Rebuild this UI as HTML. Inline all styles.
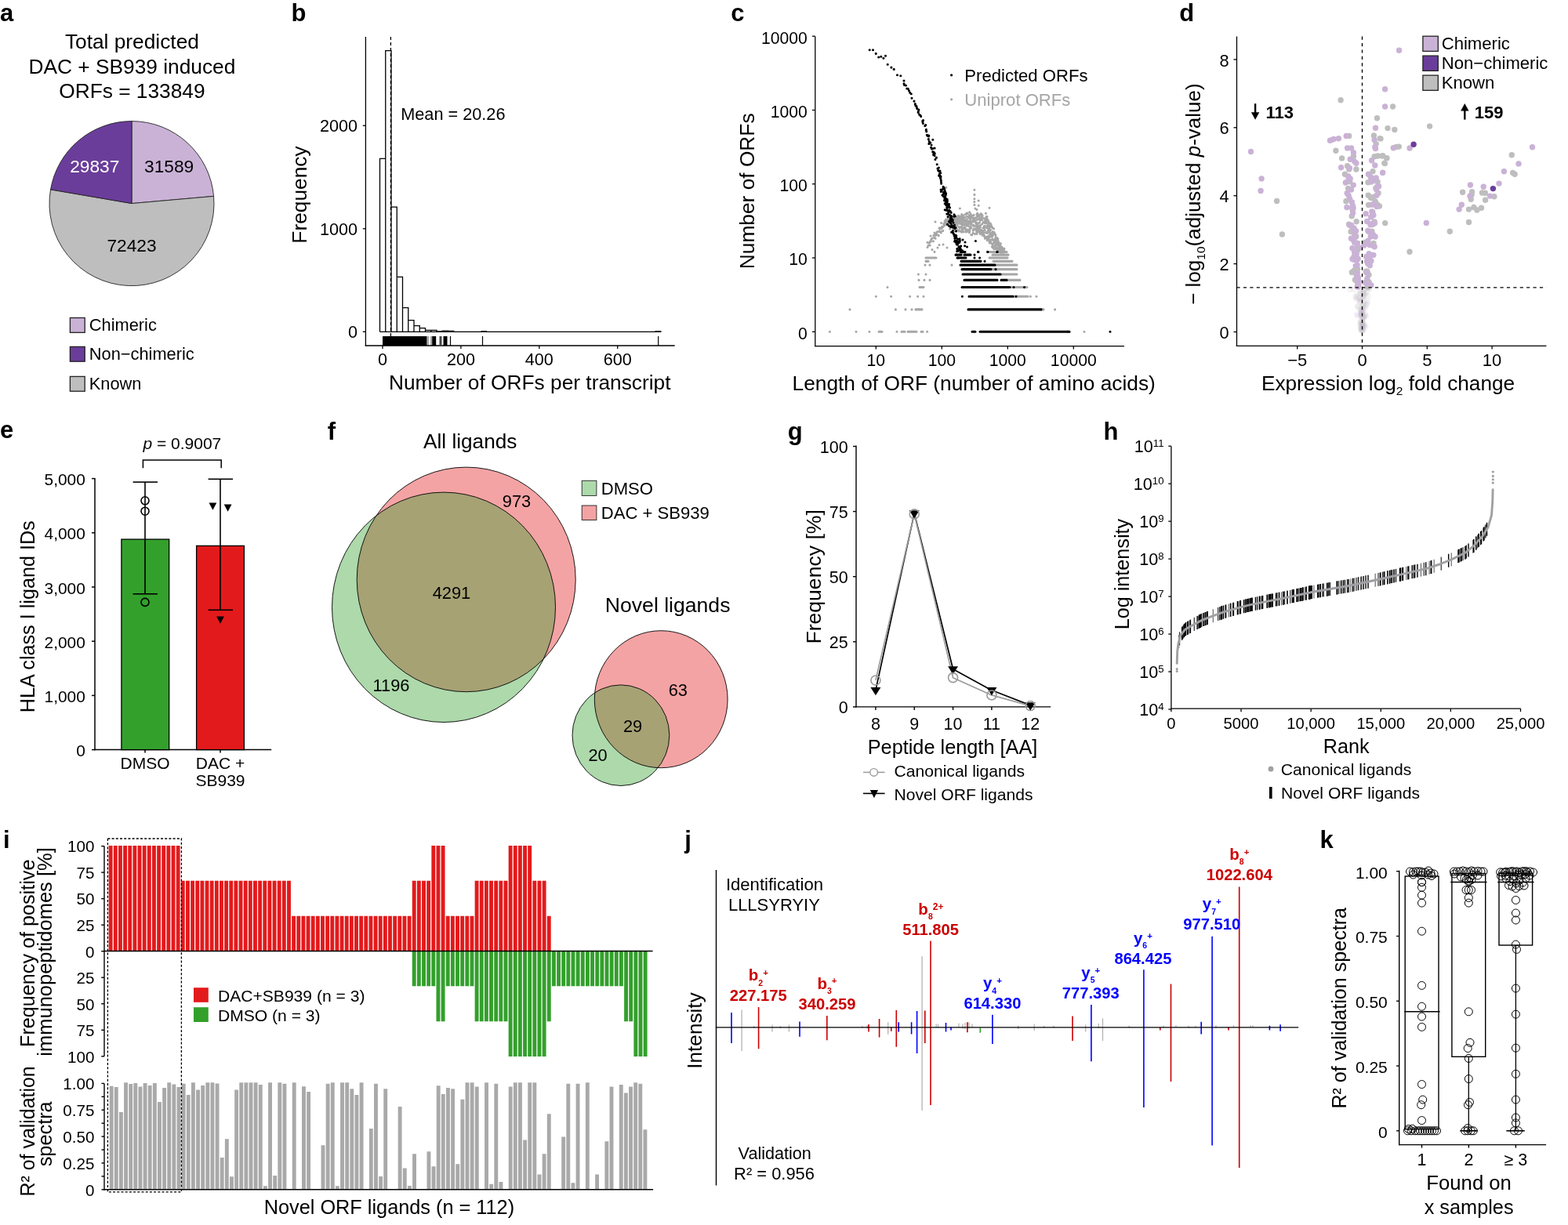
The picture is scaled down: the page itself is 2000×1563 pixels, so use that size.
<!DOCTYPE html>
<html><head><meta charset="utf-8"><title>Figure</title>
<style>html,body{margin:0;padding:0;background:#fff;}svg{display:block;}
text{font-family:'Liberation Sans', Arial, Helvetica, sans-serif;}</style></head>
<body><svg width="2000" height="1563" viewBox="0 0 2000 1563">
<rect width="2000" height="1563" fill="#fff"/>
<text transform="translate(0 26.6)" font-weight="bold" font-size="31">a</text>
<text transform="translate(168.4 61.7)" text-anchor="middle" font-size="26.3">Total predicted</text>
<text transform="translate(168.4 93.6)" text-anchor="middle" font-size="26.3">DAC + SB939 induced</text>
<text transform="translate(168.4 125)" text-anchor="middle" font-size="26.3">ORFs = 133849</text>
<path d="M168 259.6L168 154.6A105 105 0 0 1 272.59 250.38Z" fill="#cab2d6" stroke="#222" stroke-width="0.9" stroke-linejoin="round"/>
<path d="M168 259.6L272.59 250.38A105 105 0 1 1 64.52 241.82Z" fill="#bebebe" stroke="#222" stroke-width="0.9" stroke-linejoin="round"/>
<path d="M168 259.6L64.52 241.82A105 105 0 0 1 168 154.6Z" fill="#6a3d9a" stroke="#222" stroke-width="0.9" stroke-linejoin="round"/>
<text transform="translate(120.8 219.6)" text-anchor="middle" fill="#fff" font-size="22.7">29837</text>
<text transform="translate(215.6 219.6)" text-anchor="middle" font-size="22.7">31589</text>
<text transform="translate(168 320.5)" text-anchor="middle" font-size="22.7">72423</text>
<rect x="89.4" y="405.5" width="18.8" height="18.8" fill="#cab2d6" stroke="#222" stroke-width="1.3"/>
<text transform="translate(113.8 422.1)" font-size="21.8">Chimeric</text>
<rect x="89.4" y="442.4" width="18.8" height="18.8" fill="#6a3d9a" stroke="#222" stroke-width="1.3"/>
<text transform="translate(113.8 459)" font-size="21.8">Non−chimeric</text>
<rect x="89.4" y="480.4" width="18.8" height="18.8" fill="#bebebe" stroke="#222" stroke-width="1.3"/>
<text transform="translate(113.8 497)" font-size="21.8">Known</text>
<text transform="translate(371.4 26.6)" font-weight="bold" font-size="31">b</text>
<line x1="466.4" y1="47" x2="466.4" y2="441.6" stroke="#000" stroke-width="1.3"/>
<line x1="465.75" y1="441" x2="860.7" y2="441" stroke="#000" stroke-width="1.3"/>
<line x1="462.8" y1="423.3" x2="466.4" y2="423.3" stroke="#000" stroke-width="1.3"/>
<text transform="translate(456 431.1)" text-anchor="end" font-size="21.6">0</text>
<line x1="462.8" y1="291.8" x2="466.4" y2="291.8" stroke="#000" stroke-width="1.3"/>
<text transform="translate(456 299.6)" text-anchor="end" font-size="21.6">1000</text>
<line x1="462.8" y1="160.3" x2="466.4" y2="160.3" stroke="#000" stroke-width="1.3"/>
<text transform="translate(456 168.1)" text-anchor="end" font-size="21.6">2000</text>
<line x1="488" y1="441" x2="488" y2="445" stroke="#000" stroke-width="1.3"/>
<text transform="translate(488 465.6)" text-anchor="middle" font-size="21.6">0</text>
<line x1="587.9" y1="441" x2="587.9" y2="445" stroke="#000" stroke-width="1.3"/>
<text transform="translate(587.9 465.6)" text-anchor="middle" font-size="21.6">200</text>
<line x1="687.8" y1="441" x2="687.8" y2="445" stroke="#000" stroke-width="1.3"/>
<text transform="translate(687.8 465.6)" text-anchor="middle" font-size="21.6">400</text>
<line x1="787.7" y1="441" x2="787.7" y2="445" stroke="#000" stroke-width="1.3"/>
<text transform="translate(787.7 465.6)" text-anchor="middle" font-size="21.6">600</text>
<text transform="translate(496 497.3)" font-size="26.3">Number of ORFs per transcript</text>
<text transform="translate(391 248.5) rotate(-90)" text-anchor="middle" font-size="26.3">Frequency</text>
<path d="M484.5 423.3V202.3H491.75V423.3M491.75 423.3V64.6H499V423.3M499 423.3V264.2H506.25V423.3M506.25 423.3V353.3H513.5V423.3M513.5 423.3V392.7H520.75V423.3M520.75 423.3V408.6H528V423.3M528 423.3V415.7H535.25V423.3M535.25 423.3V418.7H542.5V423.3M542.5 423.3V421.3H549.75V423.3M549.75 423.3V421.3H557V423.3M557 423.3V422.8H564.25V423.3M564.25 423.3V422.2H571.5V423.3M571.5 423.3V422.5H578.75V423.3" fill="none" stroke="#000" stroke-width="1.3"/>
<line x1="484.5" y1="423.3" x2="843.4" y2="423.3" stroke="#000" stroke-width="1.3"/>
<line x1="613.5" y1="422.6" x2="621" y2="422.6" stroke="#000" stroke-width="1"/>
<line x1="835.5" y1="422.6" x2="843.4" y2="422.6" stroke="#000" stroke-width="1"/>
<line x1="498.4" y1="47" x2="498.4" y2="429" stroke="#000" stroke-width="1.3" stroke-dasharray="4 3"/>
<rect x="488" y="429" width="56.5" height="12" fill="#000"/>
<line x1="546" y1="429" x2="546" y2="441" stroke="#000" stroke-width="0.7"/>
<line x1="550" y1="429" x2="550" y2="441" stroke="#000" stroke-width="0.7"/>
<rect x="551.2" y="429" width="5" height="12" fill="#000"/>
<rect x="560.5" y="429" width="3" height="12" fill="#444"/>
<rect x="565.5" y="429" width="5" height="12" fill="#000"/>
<line x1="574.5" y1="429" x2="574.5" y2="441" stroke="#000" stroke-width="1.2"/>
<line x1="615.5" y1="429" x2="615.5" y2="441" stroke="#000" stroke-width="1.2"/>
<line x1="839.7" y1="429" x2="839.7" y2="441" stroke="#000" stroke-width="1.2"/>
<text transform="translate(511.2 152.6)" font-size="21.7">Mean = 20.26</text>
<text transform="translate(932.2 26.6)" font-weight="bold" font-size="31">c</text>
<line x1="1039.8" y1="46.6" x2="1039.8" y2="442.25" stroke="#000" stroke-width="1.3"/>
<line x1="1039.15" y1="441.6" x2="1434.1" y2="441.6" stroke="#000" stroke-width="1.3"/>
<line x1="1036" y1="423.3" x2="1039.8" y2="423.3" stroke="#000" stroke-width="1.3"/>
<text transform="translate(1029.8 432.7)" text-anchor="end" font-size="21.2">0</text>
<line x1="1036" y1="329.03" x2="1039.8" y2="329.03" stroke="#000" stroke-width="1.3"/>
<text transform="translate(1029.8 338.43)" text-anchor="end" font-size="21.2">10</text>
<line x1="1036" y1="234.76" x2="1039.8" y2="234.76" stroke="#000" stroke-width="1.3"/>
<text transform="translate(1029.8 244.16)" text-anchor="end" font-size="21.2">100</text>
<line x1="1036" y1="140.49" x2="1039.8" y2="140.49" stroke="#000" stroke-width="1.3"/>
<text transform="translate(1029.8 149.89)" text-anchor="end" font-size="21.2">1000</text>
<line x1="1036" y1="46.22" x2="1039.8" y2="46.22" stroke="#000" stroke-width="1.3"/>
<text transform="translate(1029.8 55.62)" text-anchor="end" font-size="21.2">10000</text>
<line x1="1117.3" y1="441.6" x2="1117.3" y2="445.4" stroke="#000" stroke-width="1.3"/>
<text transform="translate(1117.3 466.5)" text-anchor="middle" font-size="21.2">10</text>
<line x1="1201.3" y1="441.6" x2="1201.3" y2="445.4" stroke="#000" stroke-width="1.3"/>
<text transform="translate(1201.3 466.5)" text-anchor="middle" font-size="21.2">100</text>
<line x1="1285.3" y1="441.6" x2="1285.3" y2="445.4" stroke="#000" stroke-width="1.3"/>
<text transform="translate(1285.3 466.5)" text-anchor="middle" font-size="21.2">1000</text>
<line x1="1369.3" y1="441.6" x2="1369.3" y2="445.4" stroke="#000" stroke-width="1.3"/>
<text transform="translate(1369.3 466.5)" text-anchor="middle" font-size="21.2">10000</text>
<text transform="translate(1010.5 497.5)" font-size="26.3">Length of ORF (number of amino acids)</text>
<text transform="translate(962 243.8) rotate(-90)" text-anchor="middle" font-size="26.3">Number of ORFs</text>
<path d="M1262 321.57H1284M1266 325.13H1286M1262 329.03H1285M1181 329.03H1194M1267 333.34H1291M1181 333.34H1184M1269 338.17H1297M1180 338.17H1180M1186 338.17H1186M1214 338.17H1214M1266 343.63H1297M1276 349.94H1297M1171.4 349.94H1171.4M1181 349.94H1181M1284 357.41H1301M1172 357.41H1172M1179 357.41H1179M1186 357.41H1186M1288 366.54H1310M1132 366.54H1132M1173 366.54H1178M1292 378.32H1311M1314.4 378.32H1314.4M1322 378.32H1322M1117.4 378.32H1117.4M1136.6 378.32H1136.6M1160.6 378.32H1160.6M1170.6 378.32H1170.6M1178 378.32H1178M1084 394.92H1084M1142.4 394.92H1142.4M1155 394.92H1155M1163 394.92H1163M1168 394.92H1176M1328 394.92H1331M1345.6 394.92H1345.6M1058.4 423.3H1058.4M1092 423.3H1092M1109 423.3H1109M1121 423.3H1125M1144 423.3H1144M1150 423.3H1154M1158 423.3H1169M1175 423.3H1177M1182.6 423.3H1182.6M1362 423.3H1364M1383 423.3H1383" stroke="#a6a6a6" stroke-width="3.1" stroke-linecap="round" fill="none"/>
<path d="M1223.09 284.21h0M1252.55 276.45h0M1206 285.97h0M1280.67 321.53h0M1268.57 305.64h0M1253.25 297.13h0M1244.76 292.74h0M1262.63 298.57h0M1227.9 274.99h0M1259.63 301.84h0M1259.27 302.01h0M1238.79 299.6h0M1271.79 303.51h0M1278.38 319.26h0M1252.63 280.61h0M1231.67 286.96h0M1249.4 296.51h0M1270.09 317.21h0M1256.02 281.88h0M1273.76 312.38h0M1259.25 284.82h0M1226.66 273.61h0M1269.9 321.38h0M1236.2 277.18h0M1227.34 290.78h0M1251.7 274.22h0M1259.6 290.25h0M1243.41 298.52h0M1228.53 274.79h0M1220 282.69h0M1251.4 279.81h0M1228.85 295.85h0M1273.15 309.41h0M1253.94 290.81h0M1247.5 290.65h0M1237.77 291.28h0M1223.06 282.01h0M1246.68 272.05h0M1236.56 289.27h0M1253.05 275.44h0M1252.68 285.9h0M1258.73 297.13h0M1206.69 279.91h0M1224.09 280.82h0M1250.04 280.99h0M1233.06 288.24h0M1227.83 281.89h0M1248.26 292.41h0M1228.56 278.65h0M1219.24 282.54h0M1258.05 279.1h0M1268.35 305.81h0M1270.02 300.34h0M1272.25 312.27h0M1222.1 276.52h0M1266.32 312.52h0M1218.95 281.36h0M1266.28 297.68h0M1214.86 281.82h0M1231.32 281.99h0M1236.9 283.66h0M1205.35 286.33h0M1271.88 318.35h0M1275.48 314.11h0M1261.66 303.1h0M1226.97 279.8h0M1222.29 275.4h0M1266.57 291.23h0M1273.67 318.89h0M1273.38 313.28h0M1206 285.95h0M1255.38 290.45h0M1236.45 296.45h0M1224.19 291.1h0M1241.27 294.3h0M1245.63 295.66h0M1218.02 291.15h0M1267.59 291.74h0M1252.77 298.29h0M1225.41 285.32h0M1237.15 284.82h0M1209.17 280.9h0M1214.47 280.96h0M1211.55 283.9h0M1229.01 279.42h0M1249.58 284.08h0M1219.52 282.62h0M1259.42 290h0M1211.07 279.8h0M1264.48 297.98h0M1265.89 305.25h0M1242.71 292.52h0M1236.96 289.96h0M1245.72 291.75h0M1210.44 281.26h0M1276.17 316.83h0M1273.24 317.79h0M1214.36 289.87h0M1255.33 300.1h0M1260.76 293.66h0M1212.84 286.02h0M1263.85 286.33h0M1211.98 280.39h0M1206.79 285.64h0M1214.22 287.83h0M1277.38 316.61h0M1265.7 289.96h0M1259.35 279.87h0M1261.92 307.97h0M1247.86 295.55h0M1223.4 278.13h0M1262.27 294.64h0M1232.93 281.74h0M1211.33 285.25h0M1278.95 319.06h0M1257.5 296.91h0M1256.21 288.23h0M1273.2 307.24h0M1212.29 288.35h0M1238.67 291.32h0M1219.14 281.03h0M1228.93 280.07h0M1257.53 302.67h0M1236.4 296.77h0M1249.43 280.11h0M1241.44 282.87h0M1218.09 281.31h0M1215.91 293.53h0M1241.45 286.95h0M1267.44 307h0M1241.58 293.6h0M1260.75 305.05h0M1240.52 278.2h0M1256.33 304.3h0M1269.89 303h0M1219.23 288.84h0M1270.25 317.76h0M1228.82 285.34h0M1260.4 283.99h0M1227.17 282.64h0M1249.1 292.34h0M1238.15 285.36h0M1220.97 287.17h0M1246.37 274.87h0M1225.88 289.9h0M1274.07 309.85h0M1276.54 316.6h0M1227.46 286.49h0M1254.71 296.68h0M1278.06 321.62h0M1245.75 273.75h0M1259.58 297.34h0M1248.05 276.33h0M1218.61 289.64h0M1254.81 278.55h0M1230.2 289.74h0M1250.4 287.46h0M1228.75 276.23h0M1210.21 286.26h0M1261.21 288.9h0M1225.2 282.25h0M1243.36 278.02h0M1263.44 293.4h0M1246.15 294.73h0M1231.82 294.15h0M1212.57 280.42h0M1264.2 306.12h0M1236.67 292.79h0M1267 310.41h0M1235.28 276.88h0M1245.1 288.17h0M1264.41 287.91h0M1266.04 314.95h0M1247 287.93h0M1253.16 300.25h0M1270.36 307.85h0M1250.7 295.15h0M1255.31 288.61h0M1244.8 285.27h0M1207.82 285.45h0M1254.09 283.59h0M1272.8 304.69h0M1265.22 306.06h0M1222.74 276.65h0M1245.95 297.12h0M1257.79 282.49h0M1270.23 312.9h0M1261.22 289.15h0M1266.31 316h0M1262.52 294.89h0M1213.29 279.43h0M1217.22 284.83h0M1258.15 290.41h0M1228.15 284.65h0M1262.54 294.71h0M1259.7 291.21h0M1233.19 285.11h0M1205.21 281.77h0M1264.52 289.62h0M1220.91 278.7h0M1235.68 277.13h0M1217.79 284.44h0M1209.54 278.78h0M1258.46 278.98h0M1235.65 285.66h0M1221.64 277.43h0M1241.07 275.24h0M1214.42 277.66h0M1260.3 287.4h0M1275.9 313.25h0M1224 280.4h0M1231.2 273.56h0M1256.86 303.04h0M1207.3 281.22h0M1217.95 278.63h0M1273.42 308.97h0M1279.01 320.26h0M1276.45 310.79h0M1228.16 287.54h0M1227.3 292.14h0M1213.72 282.05h0M1275.57 314.16h0M1261.22 301.15h0M1275.19 312.66h0M1236.52 278.4h0M1225.48 276.12h0M1259.77 295.2h0M1242.02 274.39h0M1259.01 276.55h0M1256.48 278.78h0M1223.02 289.64h0M1271.29 307.45h0M1273.16 316.29h0M1210.48 284.22h0M1277.63 315.37h0M1211.15 285.52h0M1223.29 276.56h0M1249.5 274.43h0M1222.47 293.72h0M1236.89 294.7h0M1250.93 294.1h0M1218.5 277.34h0M1267.74 298.81h0M1220.14 291.9h0M1211.52 284.26h0M1251.77 293.23h0M1262.87 306.18h0M1238.87 276.01h0M1268.49 309.15h0M1245.98 284.18h0M1260.33 280.97h0M1210.44 285.84h0M1260.88 290.75h0M1221.28 280.41h0M1280.68 320.01h0M1221.56 278.46h0M1275.75 321.1h0M1251.52 296.46h0M1245.71 286.07h0M1277.17 317h0M1263.78 298.86h0M1227.2 294.1h0M1219.03 277.47h0M1244.48 289h0M1208.08 285.7h0M1231.2 292h0M1261.76 290.1h0M1236.24 274.69h0M1216.64 287.52h0M1279.45 317.88h0M1233.32 276.06h0M1244.97 288.38h0M1232.34 293.41h0M1272.4 319.05h0M1227.6 278.91h0M1214.99 284.68h0M1245.72 277.14h0M1263.52 297.5h0M1279.43 321.04h0M1219.06 276.19h0M1237.86 282.57h0M1212.13 282.65h0M1223.79 289.71h0M1208.34 284.01h0M1252.69 294.03h0M1223.8 276.01h0M1262.63 302.14h0M1246.94 279.7h0M1217.82 275.11h0M1273.87 311.35h0M1255.58 301.61h0M1236.5 284.45h0M1217.98 277.84h0M1246.58 279.97h0M1231.74 284.28h0M1277.9 315.34h0M1228.93 283.22h0M1267.9 317.75h0M1251.55 272.69h0M1242.06 278.67h0M1258.91 304.58h0M1233.22 286.52h0M1273.07 320.23h0M1274.97 310.78h0M1234.13 293.16h0M1277.19 321.89h0M1229.12 282.12h0M1224.02 294.78h0M1211.02 281.62h0M1244.99 293.44h0M1268.71 310.05h0M1226.45 294.39h0M1210.27 281.04h0M1246.51 273.31h0M1222.93 294.99h0M1218.52 294.72h0M1256.27 293.88h0M1262.72 288.04h0M1219.41 290.3h0M1278.02 318.57h0M1234.06 272.38h0M1226.34 278.76h0M1216.04 277.35h0M1210.85 283.26h0M1276.39 322.27h0M1231.93 295.88h0M1241.87 292.16h0M1231.25 291.12h0M1264.43 300.44h0M1238.61 287.1h0M1268.31 296.62h0M1269.47 298.94h0M1278.22 321.04h0M1220.38 277.34h0M1279.36 319.87h0M1206.06 285.79h0M1265.34 314.78h0M1263.22 285.04h0M1246.07 285.26h0M1229.56 286.2h0M1233.39 279.49h0M1279.52 322.47h0M1270.53 315.92h0M1225.5 279.68h0M1243.06 291.93h0M1226.46 296.09h0M1239.42 282.87h0M1279.98 319.85h0M1238.56 290.27h0M1269.41 314.77h0M1209.51 284.73h0M1232.86 280.19h0M1246.7 294.56h0M1259.06 289.01h0M1227.85 283.8h0M1254.53 299.35h0M1249.42 276.93h0M1251.72 278.23h0M1211.2 282.32h0M1245.95 298.24h0M1245.61 293.83h0M1274.39 311.71h0M1256.87 280.14h0M1241.13 297.19h0M1226.79 278.45h0M1211.45 277.81h0M1231.7 273.33h0M1225.84 281.41h0M1243.89 282.65h0M1238.15 273.08h0M1279.41 321.53h0M1262.27 309.87h0M1210.02 278.39h0M1272.98 318.53h0M1230.2 280.74h0M1220.35 281.32h0M1211.72 288.55h0M1244.8 288.53h0M1211.48 279.09h0M1245.97 280.27h0M1279.64 319.65h0M1227.69 293.39h0M1215.1 284.04h0M1263.42 308.5h0M1270.17 314.29h0M1237.89 280.82h0M1219.74 291.41h0M1276.26 315.79h0M1274.43 313.36h0M1207.87 284.81h0M1234.21 294.37h0M1235.5 282.03h0M1218.5 280.2h0M1230.86 277.41h0M1221.75 282.56h0M1258.17 282.51h0M1255.98 293.26h0M1234.96 288.04h0M1250.43 289.91h0M1264.79 310.76h0M1242.25 288.09h0M1257.11 284.85h0M1267.13 315.05h0M1241.72 279.61h0M1259.48 287.68h0M1213.18 283.09h0M1269.66 305.34h0M1238.95 285.04h0M1249.29 295.56h0M1262.85 298.81h0M1228.01 294.57h0M1280.12 320.07h0M1261.85 291.36h0M1260.87 289.9h0M1241.39 288.23h0M1247.75 284.76h0M1213.33 284.18h0M1218.11 284.51h0M1219.91 282.37h0M1209.16 283.72h0M1220.32 284.85h0M1245.85 298.51h0M1271.01 310h0M1226 280.72h0M1276.56 315.57h0M1237.99 278.58h0M1278.15 315.8h0M1220.16 278.96h0M1279.89 320.63h0M1212.49 284.06h0M1262.04 284.93h0M1229.83 291.79h0M1217.56 286.99h0M1233.3 295.82h0M1261.61 294.38h0M1266.13 295.49h0M1246.36 288.1h0M1217.92 287.01h0M1221.06 286.22h0M1269.44 313.02h0M1233.31 271.74h0M1275 311.02h0M1217.04 291.91h0M1261.12 283.34h0M1246.35 290.16h0M1215.4 285.78h0M1272.21 305.14h0M1264.68 297.52h0M1239.64 299.66h0M1258.27 276.35h0M1226.4 288.94h0M1244.39 281.1h0M1278.81 318.01h0M1266.21 300.77h0M1255.72 284.47h0M1265.82 299.83h0M1222.47 283.72h0M1248.54 288.11h0M1250.41 281.21h0M1230.76 277.66h0M1248.24 279.83h0M1255.34 293.77h0M1244.64 283.6h0M1265.38 302.31h0M1212.58 287.79h0M1238.34 274.33h0M1280.96 317.17h0M1214.28 287.79h0M1241.45 279.61h0M1205.88 283.28h0M1205.36 287.02h0M1208.64 283.59h0M1228.16 283.7h0M1215.09 287.14h0M1211.73 292.26h0M1219.56 278.13h0M1261.61 295.75h0M1252.92 274.4h0M1256.21 289.94h0M1210.19 285.81h0M1275.39 314.59h0M1234.71 282.82h0M1250.72 273.12h0M1224.62 285.75h0M1224.51 280.38h0M1277.72 316.65h0M1220.41 282.4h0M1249.43 289.88h0M1223.35 278.79h0M1243.11 278.9h0M1272.16 312.2h0M1208.04 286.88h0M1262.08 291.72h0M1221.68 278.45h0M1219.95 285.12h0M1212.89 285.97h0M1241.35 281.22h0M1220.21 282.6h0M1254.1 294.57h0M1272.72 317.38h0M1259.19 306.6h0M1273.35 308.54h0M1250.19 298.41h0M1273.88 315.16h0M1216.03 280.87h0M1228.99 282.3h0M1275.54 316.31h0M1229.09 282.42h0M1279.17 320.96h0M1223.53 280.22h0M1276.26 315.46h0M1228.05 277.6h0M1246.22 286.51h0M1227.66 292.98h0M1275.97 319.22h0M1224.03 278.06h0M1216.77 293.94h0M1247.4 273.9h0M1237.45 274.1h0M1226.9 293.78h0M1187.41 308.07h0M1200.28 297.07h0M1193.77 299.04h0M1197.76 295.38h0M1197.12 300.29h0M1192.03 303.32h0M1186.88 307.69h0M1193.48 299.69h0M1193.62 298.8h0M1201.48 289.39h0M1186.15 308.68h0M1191.99 297.06h0M1192.74 300.14h0M1182.94 309.28h0M1195.24 295.74h0M1202.77 294.39h0M1185.29 309.7h0M1202.49 289.68h0M1194.34 299.12h0M1204.01 288.17h0M1193.14 304.28h0M1192.05 299.21h0M1205.15 282.04h0M1197.19 300.69h0M1186.15 313.01h0M1189.53 303.87h0M1187.79 305.97h0M1194.99 299.11h0M1198.52 292.15h0M1201.23 290.42h0M1187 300.96h0M1187.93 304.94h0M1203.73 285.77h0M1200.29 295.58h0M1201.57 290.74h0M1190.47 307.84h0M1194.29 297.68h0M1200.59 291.61h0M1200.56 290.85h0M1184.06 313.14h0M1198.69 290.77h0M1193.78 300.15h0M1190.86 300.48h0M1204.84 284.05h0M1198.02 291.06h0M1242.9 242.2h0M1242.9 248.4h0M1242.9 253.8h0M1242.9 257.5h0M1242.9 261.4h0M1248.2 256h0M1248.2 262.2h0M1262 265.3h0M1224.4 266h0M1236.7 270.7h0M1257.4 272.2h0M1206.8 239.2h0M1193 283h0M1200.6 284.5h0M1244 266h0M1246 267.5h0M1183 315.5h0M1189 318.6h0M1192 321.4h0M1196 316h0M1198 312.5h0M1185.5 310h0M1203 312h0M1208 316h0" stroke="#a6a6a6" stroke-width="3.1" stroke-linecap="round" fill="none"/>
<path d="M1225 321.57H1231M1248 321.57H1248M1260 321.57H1260M1272 321.57H1272M1219 325.13H1226M1230 325.13H1238M1243 325.13H1243M1221 329.03H1232M1243 329.03H1243M1249.6 329.03H1249.6M1226 333.34H1251M1256 333.34H1256M1225 338.17H1269M1227 343.63H1264M1270 343.63H1270M1228 349.94H1276M1230 357.41H1272M1277 357.41H1284M1227 366.54H1288M1293 366.54H1293M1306.6 366.54H1306.6M1227.4 378.32H1227.4M1236 378.32H1292M1296 378.32H1296M1235 394.92H1328M1240 423.3H1244M1250 423.3H1364M1416 423.3H1416" stroke="#000" stroke-width="3.1" stroke-linecap="round" fill="none"/>
<path d="M1109.2 63.8h0M1113.5 63.8h0M1117.2 68.4h0M1120.7 73h0M1123.8 72.3h0M1126.9 74.3h0M1129.5 71.2h0M1132.2 82.2h0M1136.9 86.1h0M1140.2 88.4h0M1144.5 95.8h0M1148.8 96.8h0M1153 103h0M1153 106.8h0M1156.8 113h0M1160.7 118.3h0M1163 125.2h0M1166 129.1h0M1169.1 136h0M1171.4 142.1h0M1174.5 148.3h0M1176.8 154.4h0M1179.8 160.6h0M1181.4 165.2h0M1183.7 172.8h0M1185.2 180.5h0M1189.8 178.2h0M1187.5 188.2h0M1192.1 189h0M1190.6 197.4h0M1192.9 203.5h0M1195.2 209.7h0M1196 215h0M1198.3 222h0M1199.8 228.1h0M1200.6 234.3h0M1202.9 240.4h0M1205.2 245h0M1206 252.7h0M1208.3 260.4h0M1210.6 263.4h0M1212.1 269.6h0M1213.6 275.7h0M1215.2 281.9h0M1217.5 287.2h0M1219 300h0M1221 308h0M1223 316h0M1226 320h0M1183.01 173.27h0M1197.91 218.72h0M1174 147.19h0M1182.3 172.35h0M1167.97 135.04h0M1186.7 182.1h0M1167.25 132.91h0M1181.73 167.86h0M1191.29 194.25h0M1153.53 108.45h0M1158.25 113.37h0M1172.66 146.16h0M1184.78 172.97h0M1177.54 153.6h0M1176.9 155.85h0M1155.46 108.99h0M1162.24 119.76h0M1169.88 138.66h0M1159.5 115.75h0M1203.1 240.03h0M1171.91 140.04h0M1188.03 184.99h0M1194.41 201.14h0M1198.98 218.67h0M1189.74 189.45h0M1174.64 148.6h0M1197.38 213.96h0M1180.76 159.6h0M1192.04 198.52h0M1171.17 143.5h0M1192.29 195.81h0M1200.27 230.06h0M1184.54 173.93h0M1177.33 157.48h0M1169.58 138.14h0M1189.73 193.66h0M1184.81 183.51h0M1197.65 224.14h0M1200.04 225.61h0M1198.94 217.94h0M1179.77 160.59h0M1168.56 135.03h0M1196.67 217.4h0M1199.35 226.89h0M1185.51 182.35h0M1184.36 177.85h0M1199.27 224.37h0M1167.32 132.53h0M1190.81 195.09h0M1184.34 177.64h0M1181.27 166.43h0M1203.09 238.22h0M1200.4 232.13h0M1199.7 220.8h0M1188.6 190h0M1217.9 291.47h0M1210.64 260.53h0M1212.41 277.98h0M1216.04 284.28h0M1219.64 302.32h0M1224.48 307.27h0M1215.16 280.3h0M1221.44 312.25h0M1217.58 308.12h0M1217.04 273.87h0M1204.04 247.2h0M1201.97 249.01h0M1212.34 289.48h0M1218.1 307.16h0M1205.2 267.8h0M1227.57 319.7h0M1207.61 257.96h0M1206.25 253.4h0M1220.65 320.62h0M1222.35 308.57h0M1211.32 274.27h0M1215.86 297.41h0M1222.43 309.11h0M1202.47 248.5h0M1213.95 281.49h0M1215.39 294.48h0M1205.38 244.15h0M1220.61 307.66h0M1205.96 253.99h0M1205.57 247.43h0M1223.89 309.33h0M1221.63 310.81h0M1212.51 274.96h0M1207.05 260.57h0M1222.01 318.97h0M1224.01 314.85h0M1225.17 318.97h0M1224.17 304.69h0M1210.02 273.25h0M1205.21 259.87h0M1204.82 247.19h0M1226.16 320.99h0M1223.9 306.83h0M1216.51 298.76h0M1206.48 248.21h0M1205.2 244.83h0M1204.01 245.78h0M1207.31 260.75h0M1218.92 290.59h0M1216.74 299.01h0M1204.84 252.64h0M1217.43 301.62h0M1212.74 284.47h0M1207.56 260.5h0M1219.58 294.89h0M1220.75 317.59h0M1213.45 281.94h0M1204.6 255.89h0M1209.09 276.54h0M1220.99 304.78h0M1213.63 296.3h0M1204.81 242.14h0M1209.38 269.51h0M1207.75 273.02h0M1221.51 320.49h0M1208.45 263.83h0M1219.76 300.74h0M1224.12 318.9h0M1213.71 278.41h0M1220.39 307.14h0M1207.22 253.81h0M1212.25 280h0M1216.97 300.12h0M1223.35 305.07h0M1208.3 255.64h0M1211.34 282.12h0M1224.56 315.77h0M1204.4 240.19h0M1205.89 249.72h0M1204.63 255.34h0M1207.72 267.29h0M1217.86 304.21h0M1207.62 264.49h0M1210.46 288.21h0M1205.88 254.61h0M1203.33 245.28h0M1205.2 245.8h0M1203.92 245.63h0M1220.07 311.36h0M1225.07 314.22h0M1205.83 252.15h0M1206.5 247.1h0M1207.02 261.04h0M1208.5 286.26h0M1206.56 268.17h0M1209.11 261.33h0M1211.53 264.97h0M1209.75 270.9h0M1220.43 311.88h0M1206.8 256.09h0M1203.23 250.34h0M1210.65 282.66h0M1208.09 254.18h0M1214.12 288.01h0M1207.9 257.53h0M1220.34 308.01h0M1227.33 320.88h0M1227.14 319.74h0M1205.15 245.56h0M1203.82 239.09h0M1200.31 244.39h0M1208.64 268.58h0M1216.82 276.16h0M1221.78 309.89h0M1214.85 295.9h0M1213.66 286.95h0M1222.93 315.08h0M1222.11 319.99h0M1210.53 268.39h0M1220.67 310.09h0M1209.79 264.66h0M1212.77 276.71h0M1211.18 283.59h0M1206.62 258.4h0M1225.71 314.06h0M1220.32 309.79h0M1227.1 322.05h0M1200.1 241.98h0M1207.89 264.55h0M1206.57 246.49h0M1203.57 247.15h0M1216.89 288.63h0M1206.56 261.54h0M1203.89 245.44h0M1212.42 282.64h0M1209.19 260.53h0M1207.98 258.37h0M1208.35 257.12h0M1218.3 275.81h0M1219.76 303.5h0M1212.84 282.16h0M1207.21 258.76h0M1212.47 289.78h0M1215.28 290.14h0M1219.49 309.33h0M1225.44 317.86h0M1201.59 242.34h0M1213.17 271.34h0M1208.09 259.91h0M1209.55 263.23h0M1230.6 313.7h0M1233.5 315h0M1244.4 307.5h0M1247.5 321.4h0M1259.7 321.4h0M1272 321.4h0M1219.8 325h0M1222 329h0M1231 309h0M1228 306h0" stroke="#000" stroke-width="3.1" stroke-linecap="round" fill="none"/>
<circle cx="1213.6" cy="95.8" r="1.6" fill="#000"/>
<text transform="translate(1230.3 103.8)" font-size="22.1">Predicted ORFs</text>
<circle cx="1213.6" cy="126.8" r="1.6" fill="#a6a6a6"/>
<text transform="translate(1230.3 134.8)" fill="#a6a6a6" font-size="22.1">Uniprot ORFs</text>
<text transform="translate(1504.2 26.5)" font-weight="bold" font-size="31">d</text>
<line x1="1577.5" y1="46.6" x2="1577.5" y2="442.05" stroke="#000" stroke-width="1.3"/>
<line x1="1576.85" y1="441.4" x2="1972.4" y2="441.4" stroke="#000" stroke-width="1.3"/>
<line x1="1573.5" y1="423.5" x2="1577.5" y2="423.5" stroke="#000" stroke-width="1.3"/>
<text transform="translate(1567.7 432.1)" text-anchor="end" font-size="21.8">0</text>
<line x1="1573.5" y1="336.6" x2="1577.5" y2="336.6" stroke="#000" stroke-width="1.3"/>
<text transform="translate(1567.7 345.2)" text-anchor="end" font-size="21.8">2</text>
<line x1="1573.5" y1="249.7" x2="1577.5" y2="249.7" stroke="#000" stroke-width="1.3"/>
<text transform="translate(1567.7 258.3)" text-anchor="end" font-size="21.8">4</text>
<line x1="1573.5" y1="162.8" x2="1577.5" y2="162.8" stroke="#000" stroke-width="1.3"/>
<text transform="translate(1567.7 171.4)" text-anchor="end" font-size="21.8">6</text>
<line x1="1573.5" y1="75.9" x2="1577.5" y2="75.9" stroke="#000" stroke-width="1.3"/>
<text transform="translate(1567.7 84.5)" text-anchor="end" font-size="21.8">8</text>
<line x1="1654.7" y1="441.4" x2="1654.7" y2="445.4" stroke="#000" stroke-width="1.3"/>
<text transform="translate(1654.7 466.5)" text-anchor="middle" font-size="22">−5</text>
<line x1="1737.5" y1="441.4" x2="1737.5" y2="445.4" stroke="#000" stroke-width="1.3"/>
<text transform="translate(1737.5 466.5)" text-anchor="middle" font-size="22">0</text>
<line x1="1820.3" y1="441.4" x2="1820.3" y2="445.4" stroke="#000" stroke-width="1.3"/>
<text transform="translate(1820.3 466.5)" text-anchor="middle" font-size="22">5</text>
<line x1="1903.1" y1="441.4" x2="1903.1" y2="445.4" stroke="#000" stroke-width="1.3"/>
<text transform="translate(1903.1 466.5)" text-anchor="middle" font-size="22">10</text>
<text transform="translate(1609 497.6)" font-size="26.2">Expression log<tspan font-size="15.5" dy="6">2</tspan><tspan dy="-6"> fold change</tspan></text>
<text transform="translate(1530.8 388.8) rotate(-90)" font-size="26">− log<tspan font-size="15.5" dy="6">10</tspan><tspan dy="-6">(adjusted </tspan><tspan font-style="italic">p</tspan>-value)</text>
<circle cx="1739.57" cy="405.21" r="3.7" fill="#cab2d6" fill-opacity="0.16"/>
<circle cx="1739.24" cy="419.41" r="3.7" fill="#bebebe" fill-opacity="0.16"/>
<circle cx="1736.75" cy="393.23" r="3.7" fill="#bebebe" fill-opacity="0.16"/>
<circle cx="1738.32" cy="394.84" r="3.7" fill="#cab2d6" fill-opacity="0.16"/>
<circle cx="1737.03" cy="421.38" r="3.7" fill="#bebebe" fill-opacity="0.16"/>
<circle cx="1737.74" cy="418.38" r="3.7" fill="#bebebe" fill-opacity="0.16"/>
<circle cx="1738.18" cy="399.52" r="3.7" fill="#cab2d6" fill-opacity="0.16"/>
<circle cx="1736.56" cy="410.89" r="3.7" fill="#bebebe" fill-opacity="0.16"/>
<circle cx="1742" cy="388.06" r="3.7" fill="#bebebe" fill-opacity="0.16"/>
<circle cx="1736.34" cy="401.09" r="3.7" fill="#cab2d6" fill-opacity="0.16"/>
<circle cx="1746.92" cy="368.36" r="3.7" fill="#bebebe" fill-opacity="0.16"/>
<circle cx="1738.82" cy="407.14" r="3.7" fill="#bebebe" fill-opacity="0.16"/>
<circle cx="1738.61" cy="415.35" r="3.7" fill="#cab2d6" fill-opacity="0.16"/>
<circle cx="1740.02" cy="377.4" r="3.7" fill="#bebebe" fill-opacity="0.16"/>
<circle cx="1735.15" cy="413.29" r="3.7" fill="#bebebe" fill-opacity="0.16"/>
<circle cx="1735.65" cy="402.47" r="3.7" fill="#cab2d6" fill-opacity="0.16"/>
<circle cx="1738.57" cy="392.56" r="3.7" fill="#bebebe" fill-opacity="0.16"/>
<circle cx="1737.77" cy="411.87" r="3.7" fill="#bebebe" fill-opacity="0.16"/>
<circle cx="1734.51" cy="385.07" r="3.7" fill="#cab2d6" fill-opacity="0.16"/>
<circle cx="1738.82" cy="390.42" r="3.7" fill="#bebebe" fill-opacity="0.16"/>
<circle cx="1735.89" cy="397.9" r="3.7" fill="#bebebe" fill-opacity="0.16"/>
<circle cx="1744.1" cy="384.02" r="3.7" fill="#cab2d6" fill-opacity="0.16"/>
<circle cx="1735.17" cy="409.71" r="3.7" fill="#bebebe" fill-opacity="0.16"/>
<circle cx="1734.98" cy="374.07" r="3.7" fill="#bebebe" fill-opacity="0.16"/>
<circle cx="1734.84" cy="382.3" r="3.7" fill="#cab2d6" fill-opacity="0.16"/>
<circle cx="1741.99" cy="416.83" r="3.7" fill="#bebebe" fill-opacity="0.16"/>
<circle cx="1737.57" cy="399.88" r="3.7" fill="#bebebe" fill-opacity="0.16"/>
<circle cx="1735.73" cy="395.88" r="3.7" fill="#cab2d6" fill-opacity="0.16"/>
<circle cx="1736.38" cy="421.29" r="3.7" fill="#bebebe" fill-opacity="0.16"/>
<circle cx="1732.45" cy="391.13" r="3.7" fill="#bebebe" fill-opacity="0.16"/>
<circle cx="1734.74" cy="374.05" r="3.7" fill="#cab2d6" fill-opacity="0.16"/>
<circle cx="1742.46" cy="389.93" r="3.7" fill="#bebebe" fill-opacity="0.16"/>
<circle cx="1731.16" cy="390.74" r="3.7" fill="#bebebe" fill-opacity="0.16"/>
<circle cx="1740.02" cy="370.14" r="3.7" fill="#cab2d6" fill-opacity="0.16"/>
<circle cx="1736.95" cy="396.72" r="3.7" fill="#bebebe" fill-opacity="0.16"/>
<circle cx="1736.31" cy="383.88" r="3.7" fill="#bebebe" fill-opacity="0.16"/>
<circle cx="1744.37" cy="386.95" r="3.7" fill="#cab2d6" fill-opacity="0.16"/>
<circle cx="1737.32" cy="407.42" r="3.7" fill="#bebebe" fill-opacity="0.16"/>
<circle cx="1737.22" cy="401.71" r="3.7" fill="#bebebe" fill-opacity="0.16"/>
<circle cx="1736.94" cy="397.42" r="3.7" fill="#cab2d6" fill-opacity="0.16"/>
<circle cx="1737.98" cy="414.01" r="3.7" fill="#bebebe" fill-opacity="0.16"/>
<circle cx="1738.48" cy="380.11" r="3.7" fill="#bebebe" fill-opacity="0.16"/>
<circle cx="1737.53" cy="416.19" r="3.7" fill="#cab2d6" fill-opacity="0.16"/>
<circle cx="1742.05" cy="374.28" r="3.7" fill="#bebebe" fill-opacity="0.16"/>
<circle cx="1735.7" cy="418.95" r="3.7" fill="#bebebe" fill-opacity="0.16"/>
<circle cx="1739.33" cy="373.6" r="3.7" fill="#cab2d6" fill-opacity="0.16"/>
<circle cx="1739.82" cy="377.22" r="3.7" fill="#bebebe" fill-opacity="0.16"/>
<circle cx="1735.79" cy="400.04" r="3.7" fill="#bebebe" fill-opacity="0.16"/>
<circle cx="1742.35" cy="403.23" r="3.7" fill="#cab2d6" fill-opacity="0.16"/>
<circle cx="1734.53" cy="414.98" r="3.7" fill="#bebebe" fill-opacity="0.16"/>
<circle cx="1737.65" cy="413.55" r="3.7" fill="#bebebe" fill-opacity="0.16"/>
<circle cx="1739.72" cy="396.11" r="3.7" fill="#cab2d6" fill-opacity="0.16"/>
<circle cx="1737.47" cy="390.22" r="3.7" fill="#bebebe" fill-opacity="0.16"/>
<circle cx="1737.75" cy="399.84" r="3.7" fill="#bebebe" fill-opacity="0.16"/>
<circle cx="1731.57" cy="402.64" r="3.7" fill="#cab2d6" fill-opacity="0.16"/>
<circle cx="1733.63" cy="384.5" r="3.7" fill="#bebebe" fill-opacity="0.16"/>
<circle cx="1733.96" cy="394.38" r="3.7" fill="#bebebe" fill-opacity="0.16"/>
<circle cx="1736.08" cy="420.45" r="3.7" fill="#cab2d6" fill-opacity="0.16"/>
<circle cx="1739.28" cy="372.69" r="3.7" fill="#bebebe" fill-opacity="0.16"/>
<circle cx="1728.93" cy="378.43" r="3.7" fill="#bebebe" fill-opacity="0.16"/>
<circle cx="1736.48" cy="401.34" r="3.7" fill="#cab2d6" fill-opacity="0.16"/>
<circle cx="1738.51" cy="387.67" r="3.7" fill="#bebebe" fill-opacity="0.16"/>
<circle cx="1738.39" cy="419.98" r="3.7" fill="#bebebe" fill-opacity="0.16"/>
<circle cx="1738.01" cy="414.33" r="3.7" fill="#cab2d6" fill-opacity="0.16"/>
<circle cx="1737.55" cy="404.29" r="3.7" fill="#bebebe" fill-opacity="0.16"/>
<circle cx="1737.51" cy="414.96" r="3.7" fill="#bebebe" fill-opacity="0.16"/>
<circle cx="1737.26" cy="417.77" r="3.7" fill="#cab2d6" fill-opacity="0.16"/>
<circle cx="1738.29" cy="374.11" r="3.7" fill="#bebebe" fill-opacity="0.16"/>
<circle cx="1739.12" cy="388.81" r="3.7" fill="#bebebe" fill-opacity="0.16"/>
<circle cx="1739.06" cy="403.88" r="3.7" fill="#cab2d6" fill-opacity="0.16"/>
<circle cx="1741.13" cy="402.93" r="3.7" fill="#bebebe" fill-opacity="0.16"/>
<circle cx="1744.34" cy="367.4" r="3.7" fill="#bebebe" fill-opacity="0.16"/>
<circle cx="1736.24" cy="397.18" r="3.7" fill="#cab2d6" fill-opacity="0.16"/>
<circle cx="1737.57" cy="417.73" r="3.7" fill="#bebebe" fill-opacity="0.16"/>
<circle cx="1737.06" cy="404.15" r="3.7" fill="#bebebe" fill-opacity="0.16"/>
<circle cx="1740.9" cy="414.38" r="3.7" fill="#cab2d6" fill-opacity="0.16"/>
<circle cx="1739" cy="422.2" r="3.7" fill="#bebebe" fill-opacity="0.16"/>
<circle cx="1736.85" cy="415.22" r="3.7" fill="#bebebe" fill-opacity="0.16"/>
<circle cx="1741.48" cy="392.82" r="3.7" fill="#cab2d6" fill-opacity="0.16"/>
<circle cx="1738.53" cy="368.23" r="3.7" fill="#bebebe" fill-opacity="0.16"/>
<circle cx="1736.33" cy="374.74" r="3.7" fill="#bebebe" fill-opacity="0.16"/>
<circle cx="1735.58" cy="402.79" r="3.7" fill="#cab2d6" fill-opacity="0.16"/>
<circle cx="1737.81" cy="414.06" r="3.7" fill="#bebebe" fill-opacity="0.16"/>
<circle cx="1732.36" cy="379.5" r="3.7" fill="#bebebe" fill-opacity="0.16"/>
<circle cx="1738.26" cy="404.88" r="3.7" fill="#cab2d6" fill-opacity="0.16"/>
<circle cx="1746.52" cy="367.87" r="3.7" fill="#bebebe" fill-opacity="0.16"/>
<circle cx="1740.37" cy="375.34" r="3.7" fill="#bebebe" fill-opacity="0.16"/>
<circle cx="1730.46" cy="381.71" r="3.7" fill="#cab2d6" fill-opacity="0.16"/>
<circle cx="1735.57" cy="410.69" r="3.7" fill="#bebebe" fill-opacity="0.16"/>
<circle cx="1737.36" cy="421.86" r="3.7" fill="#bebebe" fill-opacity="0.16"/>
<circle cx="1737.31" cy="421.92" r="3.7" fill="#cab2d6" fill-opacity="0.16"/>
<circle cx="1740.45" cy="384.38" r="3.7" fill="#bebebe" fill-opacity="0.16"/>
<circle cx="1726.61" cy="369.47" r="3.7" fill="#bebebe" fill-opacity="0.16"/>
<circle cx="1741.34" cy="367.69" r="3.7" fill="#cab2d6" fill-opacity="0.16"/>
<circle cx="1735.22" cy="369.56" r="3.7" fill="#bebebe" fill-opacity="0.16"/>
<circle cx="1738.6" cy="410.69" r="3.7" fill="#bebebe" fill-opacity="0.16"/>
<circle cx="1738.27" cy="412.39" r="3.7" fill="#cab2d6" fill-opacity="0.16"/>
<circle cx="1743.78" cy="372.65" r="3.7" fill="#bebebe" fill-opacity="0.16"/>
<circle cx="1731.08" cy="376.03" r="3.7" fill="#bebebe" fill-opacity="0.16"/>
<circle cx="1738.3" cy="378.33" r="3.7" fill="#cab2d6" fill-opacity="0.16"/>
<circle cx="1735.72" cy="418.71" r="3.7" fill="#bebebe" fill-opacity="0.16"/>
<circle cx="1729.66" cy="379.31" r="3.7" fill="#bebebe" fill-opacity="0.16"/>
<circle cx="1734.95" cy="381.13" r="3.7" fill="#cab2d6" fill-opacity="0.16"/>
<circle cx="1737.87" cy="378.93" r="3.7" fill="#bebebe" fill-opacity="0.16"/>
<circle cx="1739.58" cy="404.72" r="3.7" fill="#bebebe" fill-opacity="0.16"/>
<circle cx="1730.59" cy="401.14" r="3.7" fill="#cab2d6" fill-opacity="0.16"/>
<circle cx="1741.67" cy="400.83" r="3.7" fill="#bebebe" fill-opacity="0.16"/>
<circle cx="1736.52" cy="413.9" r="3.7" fill="#bebebe" fill-opacity="0.16"/>
<circle cx="1739.63" cy="416.32" r="3.7" fill="#cab2d6" fill-opacity="0.16"/>
<circle cx="1745.12" cy="377.94" r="3.7" fill="#bebebe" fill-opacity="0.16"/>
<circle cx="1721.7" cy="369.5" r="3.7" fill="#cab2d6" fill-opacity="0.15"/>
<path d="M1749.91 295.3h0M1752.03 310.35h0M1865.6 245.3h0M1724.82 264.11h0M1731.59 343.7h0M1753.1 199.7h0M1746.04 350.61h0M1729.9 216h0M1784.3 187.1h0M1883.9 268h0M1718.6 211.7h0M1730.11 282.69h0M1724.78 266.5h0M1932.1 222.3h0M1747.43 326.93h0M1894.4 246.2h0M1765.8 208.2h0M1760.2 176.8h0M1721.67 231.87h0M1763 199h0M1748.56 252.46h0M1750.48 286.55h0M1744.14 347.18h0M1724.71 293.15h0M1703.9 192.3h0M1758.08 246.56h0M1754.81 240.12h0M1732.36 354.11h0M1798 321.2h0M1635.4 299h0M1721.61 254.42h0M1890.5 246h0M1715.4 222.3h0M1776.6 136h0M1745 232.8h0M1741.51 309.17h0M1628.6 256.5h0M1905.9 250.8h0M1726.15 306.2h0M1730.24 354.21h0M1745.32 249.25h0M1929.6 220.4h0M1768.6 201.9h0M1711.6 201.9h0M1770 163.6h0M1778.8 165.4h0M1754.19 256.84h0M1879.9 264.5h0M1726.95 327.6h0M1728.38 356.98h0M1727.47 344.86h0M1894.6 255.2h0M1744.83 365.9h0M1877.1 248.5h0M1877.5 244.7h0M1928.3 197.7h0M1849.3 295.3h0M1763.8 198.6h0M1741.52 360.51h0M1716.9 256.8h0M1766.7 284.6h0M1757.3 199h0M1720.7 173.4h0M1725.24 291.1h0M1889.5 265.2h0M1746.36 295.75h0M1723.05 295.6h0M1755.2 183.6h0M1761 176.9h0M1756.06 238.78h0M1720.7 216h0M1756.55 260.71h0M1757.13 231.97h0M1876.2 254.3h0M1724.21 275.73h0M1750.75 270.38h0M1726.4 199.5h0M1751 218.7h0M1756.5 150.8h0M1725.24 268.07h0M1748.9 229.5h0M1873.5 283.5h0M1746.81 325.44h0M1769 201.8h0M1731.38 360.5h0M1710.1 127.8h0M1823.6 161.1h0M1759.39 262.94h0M1731.39 310.12h0M1751.52 251.47h0M1720.6 286.09h0M1745.13 336.24h0M1731.08 315.73h0M1743.81 346.09h0M1729.77 301.68h0M1781.1 187.4h0M1746.49 336.52h0M1731.29 319.69h0M1742.27 346.29h0M1752.4 173h0M1745.6 333.17h0M1731.1 347.47h0M1873.5 267.1h0M1753.14 258.88h0M1766.4 208.6h0M1753.2 282.91h0M1750.52 312.94h0M1745.54 261.56h0M1724.36 347.48h0M1727.15 345.31h0M1728.08 317.31h0M1746.07 359.91h0M1730.55 355.73h0M1719.68 240.33h0" stroke="#bebebe" stroke-width="7.4" stroke-linecap="round" fill="none"/>
<path d="M1766.6 113.7h0M1752.75 230.37h0M1743.84 355.54h0M1750.41 298.85h0M1608.1 243.4h0M1710.6 213.8h0M1747.14 332.07h0M1744.98 294.4h0M1750.34 261.14h0M1743.62 333.38h0M1719.82 225.07h0M1874.9 250.1h0M1739.94 313.1h0M1729.55 294.65h0M1731.22 365.59h0M1731.17 353.35h0M1755.68 241.75h0M1749.6 204.7h0M1595.5 193.5h0M1753.8 211h0M1753.25 284.97h0M1744.97 307.16h0M1718.21 246.43h0M1728.34 298.5h0M1729.63 330.73h0M1954.5 187.8h0M1756.08 263.6h0M1752.28 260.23h0M1743.66 282.46h0M1747.23 338.72h0M1727.69 309.39h0M1754.96 228.24h0M1721.4 287.18h0M1912 234.1h0M1861.1 267.1h0M1732.83 363.57h0M1731.06 338.25h0M1750.95 227.59h0M1723.42 304.32h0M1742.12 272.66h0M1751.84 325.36h0M1729.9 208.2h0M1745.79 330.61h0M1745.4 222.3h0M1723.58 287.33h0M1732.02 353.4h0M1731.11 348.81h0M1755.2 226.9h0M1731.61 365.44h0M1750.71 273.89h0M1937 208.9h0M1717.2 173.4h0M1727.51 303.42h0M1744.52 336.12h0M1720.2 249.43h0M1727.51 301.48h0M1751.64 299.69h0M1729.22 339.15h0M1727.5 292.66h0M1875.4 236h0M1784.6 64.3h0M1798.1 189h0M1753.19 314.74h0M1748.89 333h0M1749.75 269.85h0M1723.6 188.9h0M1918.4 218.7h0M1730.08 350.55h0M1748.69 276.9h0M1892.2 238.3h0M1696.5 179.3h0M1754.5 189.5h0M1730.8 351.02h0M1701 177.5h0M1753.1 178.6h0M1721.55 253.79h0M1730.61 331.87h0M1716.37 232.94h0M1725.62 262.79h0M1755.84 249.3h0M1763.6 220.4h0M1748.88 296.86h0M1746.13 323.71h0M1900.5 250.1h0M1726.92 291.05h0M1754.5 163.2h0M1727.8 206.1h0M1725.54 272.05h0M1731.99 365.99h0M1748.97 232.08h0M1732.65 358.39h0M1717.9 264.5h0M1724.95 316.69h0M1763.7 220.2h0M1725.03 330.45h0M1754.09 302.02h0M1730.91 310.63h0M1734.21 316.21h0M1724.33 257.91h0M1777.3 188.7h0M1751.86 274.54h0M1609.1 227.9h0M1722.2 203.3h0M1744.79 294.46h0M1819.3 284.4h0M1748.03 286.72h0M1722.2 227.9h0M1750.56 285.23h0M1753.8 187.8h0M1726.07 265.43h0M1720.14 227.53h0M1748.3 301.91h0M1864.3 261.3h0M1732.15 330.26h0M1726.4 194.8h0M1730.22 324.38h0M1742.62 361.55h0M1730.96 356.07h0M1723.51 242.08h0M1707.4 176.8h0M1727.9 322.79h0M1742.77 327.52h0M1766.6 136h0M1748.2 225.8h0M1726.97 331.31h0M1748.87 363.65h0M1727.56 321.68h0M1743.22 347.91h0M1746.96 312.44h0M1726.22 236.1h0M1721.4 214.5h0M1718.6 188.9h0M1758.58 237.66h0M1698.2 178.6h0" stroke="#cab2d6" stroke-width="7.4" stroke-linecap="round" fill="none"/>
<circle cx="1803.1" cy="184.3" r="3.7" fill="#6a3d9a"/>
<circle cx="1904.4" cy="240.6" r="3.7" fill="#6a3d9a"/>
<line x1="1737.5" y1="46.6" x2="1737.5" y2="441.4" stroke="#000" stroke-width="1.3" stroke-dasharray="4.2 4.2"/>
<line x1="1577.5" y1="366.97" x2="1972.4" y2="366.97" stroke="#000" stroke-width="1.3" stroke-dasharray="4.2 4.2"/>
<line x1="1601.1" y1="132.2" x2="1601.1" y2="144" stroke="#000" stroke-width="2.4"/>
<path d="M1595.9 143.2L1606.3 143.2L1601.1 152.8Z" fill="#000"/>
<text transform="translate(1614.6 151.2)" font-weight="bold" font-size="22">113</text>
<line x1="1868.3" y1="152.6" x2="1868.3" y2="141" stroke="#000" stroke-width="2.4"/>
<path d="M1863.1 141.6L1873.5 141.6L1868.3 132Z" fill="#000"/>
<text transform="translate(1880.7 151.2)" font-weight="bold" font-size="22">159</text>
<rect x="1814.9" y="46.2" width="19.4" height="19.2" fill="#cab2d6" stroke="#222" stroke-width="1.3"/>
<text transform="translate(1838.7 63.2)" font-size="22.1">Chimeric</text>
<rect x="1814.9" y="71.15" width="19.4" height="19.2" fill="#6a3d9a" stroke="#222" stroke-width="1.3"/>
<text transform="translate(1838.7 88.15)" font-size="22.1">Non−chimeric</text>
<rect x="1814.9" y="96.1" width="19.4" height="19.2" fill="#bebebe" stroke="#222" stroke-width="1.3"/>
<text transform="translate(1838.7 113.1)" font-size="22.1">Known</text>
<text transform="translate(0 558.8)" font-weight="bold" font-size="31">e</text>
<line x1="121" y1="610" x2="121" y2="957.35" stroke="#000" stroke-width="1.5"/>
<line x1="120.25" y1="956.6" x2="346.2" y2="956.6" stroke="#000" stroke-width="1.5"/>
<line x1="117" y1="956.6" x2="121" y2="956.6" stroke="#000" stroke-width="1.5"/>
<text transform="translate(108.8 965.2)" text-anchor="end" font-size="20.9">0</text>
<line x1="117" y1="887.4" x2="121" y2="887.4" stroke="#000" stroke-width="1.5"/>
<text transform="translate(108.8 896)" text-anchor="end" font-size="20.9">1,000</text>
<line x1="117" y1="818.2" x2="121" y2="818.2" stroke="#000" stroke-width="1.5"/>
<text transform="translate(108.8 826.8)" text-anchor="end" font-size="20.9">2,000</text>
<line x1="117" y1="749" x2="121" y2="749" stroke="#000" stroke-width="1.5"/>
<text transform="translate(108.8 757.6)" text-anchor="end" font-size="20.9">3,000</text>
<line x1="117" y1="679.8" x2="121" y2="679.8" stroke="#000" stroke-width="1.5"/>
<text transform="translate(108.8 688.4)" text-anchor="end" font-size="20.9">4,000</text>
<line x1="117" y1="610.6" x2="121" y2="610.6" stroke="#000" stroke-width="1.5"/>
<text transform="translate(108.8 619.2)" text-anchor="end" font-size="20.9">5,000</text>
<line x1="185" y1="956.6" x2="185" y2="960.6" stroke="#000" stroke-width="1.5"/>
<line x1="281" y1="956.6" x2="281" y2="960.6" stroke="#000" stroke-width="1.5"/>
<rect x="154.9" y="688.1" width="60.8" height="268.5" fill="#33a02c" stroke="#000" stroke-width="1.3"/>
<rect x="250.6" y="696.41" width="60.8" height="260.19" fill="#e31a1c" stroke="#000" stroke-width="1.3"/>
<line x1="185" y1="615.1" x2="185" y2="757.8" stroke="#000" stroke-width="1.6"/>
<line x1="169.6" y1="615.1" x2="201" y2="615.1" stroke="#000" stroke-width="1.6"/>
<line x1="169.6" y1="757.8" x2="201" y2="757.8" stroke="#000" stroke-width="1.6"/>
<line x1="281" y1="611.3" x2="281" y2="778.3" stroke="#000" stroke-width="1.6"/>
<line x1="265.6" y1="611.3" x2="297" y2="611.3" stroke="#000" stroke-width="1.6"/>
<line x1="265.6" y1="778.3" x2="297" y2="778.3" stroke="#000" stroke-width="1.6"/>
<circle cx="185" cy="638.8" r="5" fill="none" stroke="#000" stroke-width="1.6"/>
<circle cx="185" cy="652.2" r="5" fill="none" stroke="#000" stroke-width="1.6"/>
<circle cx="185" cy="768.4" r="5" fill="none" stroke="#000" stroke-width="1.6"/>
<path d="M266.5 641.5L276.3 641.5L271.4 650.7Z" fill="#000"/>
<path d="M285.7 643.5L295.5 643.5L290.6 652.7Z" fill="#000"/>
<path d="M276.1 786.5L285.9 786.5L281 795.7Z" fill="#000"/>
<path d="M182.4 597.2V587H282.2V597.2" fill="none" stroke="#000" stroke-width="1.5"/>
<text transform="translate(182.4 573.2)" font-size="21"><tspan font-style="italic">p</tspan> = 0.9007</text>
<text transform="translate(185 981.2)" text-anchor="middle" font-size="21">DMSO</text>
<text transform="translate(281 981.2)" text-anchor="middle" font-size="21">DAC +</text>
<text transform="translate(281 1003.2)" text-anchor="middle" font-size="21">SB939</text>
<text transform="translate(44 786.8) rotate(-90)" text-anchor="middle" font-size="25.2">HLA class I ligand IDs</text>
<text transform="translate(417.7 560.6)" font-weight="bold" font-size="31">f</text>
<ellipse cx="594.7" cy="739.4" rx="139.5" ry="143.3" fill="#e31a1c" fill-opacity="0.4"/>
<ellipse cx="566" cy="774.8" rx="142.5" ry="146.7" fill="#33a02c" fill-opacity="0.4"/>
<ellipse cx="594.7" cy="739.4" rx="139.5" ry="143.3" fill="none" stroke="#000" stroke-width="0.9"/>
<ellipse cx="566" cy="774.8" rx="142.5" ry="146.7" fill="none" stroke="#000" stroke-width="0.9"/>
<ellipse cx="843.2" cy="892.2" rx="84.9" ry="87.5" fill="#e31a1c" fill-opacity="0.4"/>
<ellipse cx="791.9" cy="938.2" rx="61.9" ry="64.3" fill="#33a02c" fill-opacity="0.4"/>
<ellipse cx="843.2" cy="892.2" rx="84.9" ry="87.5" fill="none" stroke="#000" stroke-width="0.9"/>
<ellipse cx="791.9" cy="938.2" rx="61.9" ry="64.3" fill="none" stroke="#000" stroke-width="0.9"/>
<text transform="translate(640.8 646.5)" font-size="21.8">973</text>
<text transform="translate(551.7 764.1)" font-size="21.8">4291</text>
<text transform="translate(475.5 882.3)" font-size="21.8">1196</text>
<text transform="translate(852.7 888.2)" font-size="21.8">63</text>
<text transform="translate(794.9 933.7)" font-size="21.8">29</text>
<text transform="translate(750.5 971.4)" font-size="21.8">20</text>
<text transform="translate(540 571.6)" font-size="26.2">All ligands</text>
<text transform="translate(771.8 780.6)" font-size="26.6">Novel ligands</text>
<rect x="742.2" y="613.3" width="18.7" height="19.1" fill="#33a02c" fill-opacity="0.4" stroke="#222" stroke-width="0.9"/>
<rect x="742.2" y="645" width="18.7" height="18.5" fill="#e31a1c" fill-opacity="0.4" stroke="#222" stroke-width="0.9"/>
<text transform="translate(766.7 630.6)" font-size="22.1">DMSO</text>
<text transform="translate(766.7 661.7)" font-size="22.1">DAC + SB939</text>
<text transform="translate(1004.8 560.7)" font-weight="bold" font-size="31">g</text>
<line x1="1092" y1="568.4" x2="1092" y2="902.6" stroke="#000" stroke-width="1.4"/>
<line x1="1091.3" y1="901.9" x2="1340.2" y2="901.9" stroke="#000" stroke-width="1.4"/>
<line x1="1088" y1="901.9" x2="1092" y2="901.9" stroke="#000" stroke-width="1.4"/>
<text transform="translate(1081.6 910.1)" text-anchor="end" font-size="21.5">0</text>
<line x1="1088" y1="818.8" x2="1092" y2="818.8" stroke="#000" stroke-width="1.4"/>
<text transform="translate(1081.6 827)" text-anchor="end" font-size="21.5">25</text>
<line x1="1088" y1="735.7" x2="1092" y2="735.7" stroke="#000" stroke-width="1.4"/>
<text transform="translate(1081.6 743.9)" text-anchor="end" font-size="21.5">50</text>
<line x1="1088" y1="652.6" x2="1092" y2="652.6" stroke="#000" stroke-width="1.4"/>
<text transform="translate(1081.6 660.8)" text-anchor="end" font-size="21.5">75</text>
<line x1="1088" y1="569.5" x2="1092" y2="569.5" stroke="#000" stroke-width="1.4"/>
<text transform="translate(1081.6 577.7)" text-anchor="end" font-size="21.5">100</text>
<line x1="1116.9" y1="901.9" x2="1116.9" y2="905.9" stroke="#000" stroke-width="1.4"/>
<text transform="translate(1116.9 930.6)" text-anchor="middle" font-size="21.5">8</text>
<line x1="1166.23" y1="901.9" x2="1166.23" y2="905.9" stroke="#000" stroke-width="1.4"/>
<text transform="translate(1166.23 930.6)" text-anchor="middle" font-size="21.5">9</text>
<line x1="1215.56" y1="901.9" x2="1215.56" y2="905.9" stroke="#000" stroke-width="1.4"/>
<text transform="translate(1215.56 930.6)" text-anchor="middle" font-size="21.5">10</text>
<line x1="1264.89" y1="901.9" x2="1264.89" y2="905.9" stroke="#000" stroke-width="1.4"/>
<text transform="translate(1264.89 930.6)" text-anchor="middle" font-size="21.5">11</text>
<line x1="1314.22" y1="901.9" x2="1314.22" y2="905.9" stroke="#000" stroke-width="1.4"/>
<text transform="translate(1314.22 930.6)" text-anchor="middle" font-size="21.5">12</text>
<text transform="translate(1106.7 962)" font-size="25.3">Peptide length [AA]</text>
<text transform="translate(1047.2 821.6) rotate(-90)" font-size="26.6">Frequency [%]</text>
<polyline points="1116.9,880.63 1166.23,654.93 1215.56,853.7 1264.89,880.63 1314.22,899.91" fill="none" stroke="#000" stroke-width="1.7" stroke-linejoin="round"/>
<polyline points="1116.9,868 1166.23,655.92 1215.56,864.67 1264.89,886.94 1314.22,900.57" fill="none" stroke="#9a9a9a" stroke-width="1.7" stroke-linejoin="round"/>
<path d="M1110.4 877.05L1123.4 877.05L1116.9 887.13Z" fill="#000"/>
<path d="M1159.73 651.35L1172.73 651.35L1166.23 661.43Z" fill="#000"/>
<path d="M1209.06 850.13L1222.06 850.13L1215.56 860.2Z" fill="#000"/>
<path d="M1258.39 877.05L1271.39 877.05L1264.89 887.13Z" fill="#000"/>
<path d="M1307.72 896.33L1320.72 896.33L1314.22 906.41Z" fill="#000"/>
<circle cx="1116.9" cy="868" r="6" fill="none" stroke="#9a9a9a" stroke-width="1.6"/>
<circle cx="1166.23" cy="655.92" r="6" fill="none" stroke="#9a9a9a" stroke-width="1.6"/>
<circle cx="1215.56" cy="864.67" r="6" fill="none" stroke="#9a9a9a" stroke-width="1.6"/>
<circle cx="1264.89" cy="886.94" r="6" fill="none" stroke="#9a9a9a" stroke-width="1.6"/>
<circle cx="1314.22" cy="900.57" r="6" fill="none" stroke="#9a9a9a" stroke-width="1.6"/>
<line x1="1101" y1="985.4" x2="1128.6" y2="985.4" stroke="#9a9a9a" stroke-width="1.5"/>
<circle cx="1114.6" cy="985.4" r="4.8" fill="#fff" stroke="#9a9a9a" stroke-width="1.4"/>
<line x1="1101" y1="1012.4" x2="1128.6" y2="1012.4" stroke="#000" stroke-width="1.6"/>
<path d="M1109.8 1008L1120 1008L1114.9 1018.2Z" fill="#000"/>
<text transform="translate(1140.5 991)" font-size="21.1">Canonical ligands</text>
<text transform="translate(1140.5 1020.8)" font-size="21.1">Novel ORF ligands</text>
<text transform="translate(1407.5 560.7)" font-weight="bold" font-size="31">h</text>
<line x1="1493.9" y1="569.2" x2="1493.9" y2="904.85" stroke="#000" stroke-width="1.3"/>
<line x1="1493.25" y1="904.2" x2="1939.8" y2="904.2" stroke="#000" stroke-width="1.3"/>
<line x1="1490.3" y1="905" x2="1493.9" y2="905" stroke="#000" stroke-width="1.3"/>
<text transform="translate(1484.5 913.1)" text-anchor="end" font-size="21.6">10<tspan font-size="13.2" dy="-7.4">4</tspan></text>
<line x1="1490.3" y1="857.03" x2="1493.9" y2="857.03" stroke="#000" stroke-width="1.3"/>
<text transform="translate(1484.5 865.13)" text-anchor="end" font-size="21.6">10<tspan font-size="13.2" dy="-7.4">5</tspan></text>
<line x1="1490.3" y1="809.06" x2="1493.9" y2="809.06" stroke="#000" stroke-width="1.3"/>
<text transform="translate(1484.5 817.16)" text-anchor="end" font-size="21.6">10<tspan font-size="13.2" dy="-7.4">6</tspan></text>
<line x1="1490.3" y1="761.09" x2="1493.9" y2="761.09" stroke="#000" stroke-width="1.3"/>
<text transform="translate(1484.5 769.19)" text-anchor="end" font-size="21.6">10<tspan font-size="13.2" dy="-7.4">7</tspan></text>
<line x1="1490.3" y1="713.12" x2="1493.9" y2="713.12" stroke="#000" stroke-width="1.3"/>
<text transform="translate(1484.5 721.22)" text-anchor="end" font-size="21.6">10<tspan font-size="13.2" dy="-7.4">8</tspan></text>
<line x1="1490.3" y1="665.15" x2="1493.9" y2="665.15" stroke="#000" stroke-width="1.3"/>
<text transform="translate(1484.5 673.25)" text-anchor="end" font-size="21.6">10<tspan font-size="13.2" dy="-7.4">9</tspan></text>
<line x1="1490.3" y1="617.18" x2="1493.9" y2="617.18" stroke="#000" stroke-width="1.3"/>
<text transform="translate(1484.5 625.28)" text-anchor="end" font-size="21.6">10<tspan font-size="13.2" dy="-7.4">10</tspan></text>
<line x1="1490.3" y1="569.21" x2="1493.9" y2="569.21" stroke="#000" stroke-width="1.3"/>
<text transform="translate(1484.5 577.31)" text-anchor="end" font-size="21.6">10<tspan font-size="13.2" dy="-7.4">11</tspan></text>
<line x1="1493.9" y1="904.2" x2="1493.9" y2="908.2" stroke="#000" stroke-width="1.3"/>
<text transform="translate(1493.9 930.2)" text-anchor="middle" font-size="20.2">0</text>
<line x1="1583.02" y1="904.2" x2="1583.02" y2="908.2" stroke="#000" stroke-width="1.3"/>
<text transform="translate(1583.02 930.2)" text-anchor="middle" font-size="20.2">5000</text>
<line x1="1672.14" y1="904.2" x2="1672.14" y2="908.2" stroke="#000" stroke-width="1.3"/>
<text transform="translate(1672.14 930.2)" text-anchor="middle" font-size="20.2">10,000</text>
<line x1="1761.26" y1="904.2" x2="1761.26" y2="908.2" stroke="#000" stroke-width="1.3"/>
<text transform="translate(1761.26 930.2)" text-anchor="middle" font-size="20.2">15,000</text>
<line x1="1850.38" y1="904.2" x2="1850.38" y2="908.2" stroke="#000" stroke-width="1.3"/>
<text transform="translate(1850.38 930.2)" text-anchor="middle" font-size="20.2">20,000</text>
<line x1="1939.5" y1="904.2" x2="1939.5" y2="908.2" stroke="#000" stroke-width="1.3"/>
<text transform="translate(1939.5 930.2)" text-anchor="middle" font-size="20.2">25,000</text>
<text transform="translate(1687.7 961.4)" font-size="25.2">Rank</text>
<text transform="translate(1439.8 803.3) rotate(-90)" font-size="25.2">Log intensity</text>
<path d="M1503.71 809.99v17M1508.45 798.78v17M1510.56 796.04v17M1514.43 793.02v17M1515.08 792.63v17M1518.47 790.61v17M1528.4 785.23v17M1529.74 784.52v17M1530.95 783.87v17M1532.04 783.29v17M1535.76 781.76v17M1539.06 780.44v17M1547.28 777.25v17M1557.3 773.69v17M1558.45 773.28v17M1560.85 772.43v17M1567.36 770.48v17M1569.85 769.75v17M1578.05 767.34v17M1579.91 766.87v17M1582.16 766.3v17M1588.22 764.77v17M1588.82 764.61v17M1591 764.06v17M1592.91 763.58v17M1595.84 762.89v17M1596.91 762.68v17M1603.36 761.38v17M1606.6 760.73v17M1610.67 759.91v17M1616.41 758.76v17M1618.98 758.25v17M1619.59 758.12v17M1622.03 757.64v17M1627.05 756.65v17M1631.2 755.83v17M1634.45 755.19v17M1637.04 754.67v17M1642.19 753.6v17M1649.32 752.12v17M1650.14 751.95v17M1655.77 750.77v17M1659.23 750.02v17M1661.36 749.56v17M1662.71 749.27v17M1666.47 748.45v17M1669.69 747.76v17M1670.83 747.51v17M1672.6 747.16v17M1675.9 746.59v17M1683.17 745.33v17M1684.43 745.12v17M1688.7 744.38v17M1693.79 743.5v17M1696.56 743.02v17M1706.23 741.35v17M1712.08 740.33v17M1718.27 739.26v17M1722.86 738.35v17M1727.74 737.32v17M1735.32 735.72v17M1741.87 734.33v17M1754.13 731.74v17M1761.25 730.22v17M1766.3 729.08v17M1772.29 727.74v17M1775.21 727.08v17M1779.12 726.2v17M1785.99 724.65v17M1788.72 724.04v17M1793.77 722.9v17M1800.83 721.3v17M1803.95 720.6v17M1812.42 718.62v17M1823.08 715.81v17M1829.14 713.81v17M1851.21 705.42v17M1861.22 700.57v17M1864.54 698.92v17M1869.85 695.96v17M1878.74 688.79v17M1879.76 687.93v17M1884.53 682.68v17M1888.5 678.3v17M1889.61 677.09v17M1892.56 672.88v17M1894.26 670.21v17" stroke="#000" stroke-width="0.7" fill="none"/>
<path d="M1504.67 806.39v17M1509.28 797.7v17M1511.41 794.95v17M1514.54 792.95v17M1517.03 791.47v17M1523.21 787.99v17M1529.52 784.63v17M1530.63 784.04v17M1531.27 783.7v17M1532.72 782.97v17M1536.96 781.27v17M1539.77 780.15v17M1553.69 774.98v17M1557.74 773.54v17M1558.54 773.25v17M1563.05 771.74v17M1569.57 769.83v17M1572.68 768.92v17M1578.65 767.19v17M1581.68 766.42v17M1582.63 766.18v17M1588.36 764.73v17M1588.89 764.59v17M1591.97 763.82v17M1594.46 763.19v17M1595.99 762.86v17M1597.28 762.6v17M1603.78 761.3v17M1607.19 760.61v17M1610.79 759.89v17M1616.76 758.69v17M1619.39 758.16v17M1620.62 757.92v17M1622.58 757.53v17M1627.83 756.49v17M1631.44 755.78v17M1636.45 754.79v17M1638.62 754.34v17M1645.72 752.86v17M1649.97 751.98v17M1654.01 751.14v17M1656.12 750.69v17M1659.64 749.93v17M1661.45 749.54v17M1664.97 748.78v17M1669.41 747.82v17M1670.06 747.68v17M1671.06 747.46v17M1672.76 747.13v17M1680.53 745.79v17M1684.21 745.15v17M1684.45 745.11v17M1692.58 743.71v17M1694.56 743.36v17M1705.21 741.52v17M1707.8 741.08v17M1713.51 740.09v17M1718.78 739.18v17M1725.27 737.84v17M1730.08 736.83v17M1736.69 735.43v17M1742.11 734.28v17M1757.98 730.93v17M1763.66 729.68v17M1769.61 728.34v17M1772.35 727.72v17M1775.69 726.97v17M1780.85 725.81v17M1786.01 724.65v17M1789.13 723.94v17M1795.73 722.46v17M1801.55 721.14v17M1804.97 720.36v17M1816.28 717.72v17M1824.98 715.18v17M1838.21 710.65v17M1859.77 701.29v17M1862.93 699.72v17M1866.07 698.16v17M1870.39 695.52v17M1879.6 688.1v17M1882.7 684.68v17M1885.73 681.35v17M1888.53 678.27v17M1889.64 677.05v17M1892.77 672.54v17M1895.1 668.89v17" stroke="#000" stroke-width="1" fill="none"/>
<path d="M1507.71 799.73v17M1510.32 796.35v17M1512.57 794.12v17M1514.97 792.69v17M1518.42 790.64v17M1527.15 785.89v17M1529.72 784.52v17M1530.7 784.01v17M1531.31 783.68v17M1534.9 782.1v17M1537.78 780.95v17M1540.16 780v17M1555.85 774.21v17M1558.05 773.43v17M1560.25 772.65v17M1563.63 771.58v17M1569.57 769.83v17M1573.43 768.7v17M1578.74 767.16v17M1582.05 766.33v17M1586.55 765.19v17M1588.7 764.64v17M1590.77 764.12v17M1592.66 763.64v17M1594.63 763.14v17M1596.63 762.73v17M1601.44 761.77v17M1606.33 760.79v17M1609.46 760.16v17M1616.13 758.82v17M1618.51 758.34v17M1619.48 758.14v17M1620.95 757.85v17M1623.29 757.39v17M1628.83 756.3v17M1631.63 755.74v17M1636.79 754.72v17M1641.94 753.65v17M1648.24 752.34v17M1650.1 751.96v17M1654.33 751.08v17M1658.16 750.25v17M1659.86 749.88v17M1661.75 749.47v17M1666.09 748.54v17M1669.67 747.76v17M1670.76 747.53v17M1671.6 747.34v17M1673.29 747.04v17M1681.79 745.57v17M1684.38 745.12v17M1687.28 744.62v17M1692.6 743.7v17M1696.11 743.1v17M1705.3 741.51v17M1710.51 740.61v17M1715.37 739.77v17M1720.14 738.93v17M1725.9 737.71v17M1732.51 736.31v17M1739.19 734.9v17M1745.02 733.67v17M1760.35 730.42v17M1765.24 729.32v17M1769.77 728.3v17M1774.02 727.35v17M1777.87 726.48v17M1785.45 724.78v17M1786.66 724.5v17M1789.47 723.87v17M1796.79 722.22v17M1803.54 720.69v17M1807.95 719.66v17M1818.7 717.16v17M1825.71 714.94v17M1847.66 706.85v17M1860.69 700.83v17M1863.85 699.26v17M1868.88 696.74v17M1873 693.42v17M1879.71 687.98v17M1882.77 684.62v17M1886.26 680.77v17M1888.74 678.04v17M1892.17 673.49v17M1892.84 672.43v17M1896.52 666.67v17" stroke="#000" stroke-width="1.4" fill="none"/>
<polyline points="1501.2,846.4 1501.7,831.5 1502.9,821.5 1505.8,810.7 1511.6,803.2 1520,798.2 1532.4,791.6 1544.9,786.6 1561.5,780.7 1578.2,775.8 1594.8,771.6 1619.7,766.6 1636.4,763.3 1654.7,759.5 1671.8,755.8 1719.8,747.5 1760,739 1781.8,734.1 1803.5,729.2 1819.8,725.4 1836.1,720 1852.5,713.4 1868.8,705.3 1879.6,696.6 1890.5,684.6 1898.1,672.7 1902.5,657.4 1903.8,639 1904.1,624.8" fill="none" stroke="#a0a0a4" stroke-width="2.9" stroke-linecap="round" stroke-linejoin="round"/>
<path d="M1501.2 853.5h0M1501.2 856.5h0M1904.3 602h0M1904.3 607.4h0M1904.3 611.8h0M1904.2 616.1h0" stroke="#a0a0a4" stroke-width="3.2" stroke-linecap="round" fill="none"/>
<circle cx="1621" cy="981.2" r="3.4" fill="#a0a0a4"/>
<rect x="1619" y="1004" width="3.6" height="15" fill="#000"/>
<text transform="translate(1633.7 989)" font-size="21.1">Canonical ligands</text>
<text transform="translate(1634.1 1019)" font-size="21.1">Novel ORF ligands</text>
<text transform="translate(3.9 1081.5)" font-weight="bold" font-size="31">i</text>
<line x1="133" y1="1079.6" x2="133" y2="1347.8" stroke="#000" stroke-width="1.4"/>
<line x1="129.2" y1="1079.6" x2="133" y2="1079.6" stroke="#000" stroke-width="1.4"/>
<text transform="translate(120.4 1087.4)" text-anchor="end" font-size="20.6">100</text>
<line x1="129.2" y1="1113.12" x2="133" y2="1113.12" stroke="#000" stroke-width="1.4"/>
<text transform="translate(120.4 1120.92)" text-anchor="end" font-size="20.6">75</text>
<line x1="129.2" y1="1146.65" x2="133" y2="1146.65" stroke="#000" stroke-width="1.4"/>
<text transform="translate(120.4 1154.45)" text-anchor="end" font-size="20.6">50</text>
<line x1="129.2" y1="1180.17" x2="133" y2="1180.17" stroke="#000" stroke-width="1.4"/>
<text transform="translate(120.4 1187.97)" text-anchor="end" font-size="20.6">25</text>
<line x1="129.2" y1="1213.7" x2="133" y2="1213.7" stroke="#000" stroke-width="1.4"/>
<text transform="translate(120.4 1221.5)" text-anchor="end" font-size="20.6">0</text>
<line x1="129.2" y1="1247.22" x2="133" y2="1247.22" stroke="#000" stroke-width="1.4"/>
<text transform="translate(120.4 1255.02)" text-anchor="end" font-size="20.6">25</text>
<line x1="129.2" y1="1280.75" x2="133" y2="1280.75" stroke="#000" stroke-width="1.4"/>
<text transform="translate(120.4 1288.55)" text-anchor="end" font-size="20.6">50</text>
<line x1="129.2" y1="1314.27" x2="133" y2="1314.27" stroke="#000" stroke-width="1.4"/>
<text transform="translate(120.4 1322.07)" text-anchor="end" font-size="20.6">75</text>
<line x1="129.2" y1="1347.8" x2="133" y2="1347.8" stroke="#000" stroke-width="1.4"/>
<text transform="translate(120.4 1355.6)" text-anchor="end" font-size="20.6">100</text>
<path d="M138.7 1079h4.9v134.5h-4.9zM144.84 1079h4.9v134.5h-4.9zM150.99 1079h4.9v134.5h-4.9zM157.13 1079h4.9v134.5h-4.9zM163.28 1079h4.9v134.5h-4.9zM169.42 1079h4.9v134.5h-4.9zM175.56 1079h4.9v134.5h-4.9zM181.71 1079h4.9v134.5h-4.9zM187.85 1079h4.9v134.5h-4.9zM194 1079h4.9v134.5h-4.9zM200.14 1079h4.9v134.5h-4.9zM206.28 1079h4.9v134.5h-4.9zM212.43 1079h4.9v134.5h-4.9zM218.57 1079h4.9v134.5h-4.9zM224.72 1079h4.9v134.5h-4.9zM230.86 1123.83h4.9v89.67h-4.9zM237 1123.83h4.9v89.67h-4.9zM243.15 1123.83h4.9v89.67h-4.9zM249.29 1123.83h4.9v89.67h-4.9zM255.44 1123.83h4.9v89.67h-4.9zM261.58 1123.83h4.9v89.67h-4.9zM267.72 1123.83h4.9v89.67h-4.9zM273.87 1123.83h4.9v89.67h-4.9zM280.01 1123.83h4.9v89.67h-4.9zM286.16 1123.83h4.9v89.67h-4.9zM292.3 1123.83h4.9v89.67h-4.9zM298.44 1123.83h4.9v89.67h-4.9zM304.59 1123.83h4.9v89.67h-4.9zM310.73 1123.83h4.9v89.67h-4.9zM316.88 1123.83h4.9v89.67h-4.9zM323.02 1123.83h4.9v89.67h-4.9zM329.16 1123.83h4.9v89.67h-4.9zM335.31 1123.83h4.9v89.67h-4.9zM341.45 1123.83h4.9v89.67h-4.9zM347.6 1123.83h4.9v89.67h-4.9zM353.74 1123.83h4.9v89.67h-4.9zM359.88 1123.83h4.9v89.67h-4.9zM366.03 1123.83h4.9v89.67h-4.9zM372.17 1168.67h4.9v44.83h-4.9zM378.32 1168.67h4.9v44.83h-4.9zM384.46 1168.67h4.9v44.83h-4.9zM390.6 1168.67h4.9v44.83h-4.9zM396.75 1168.67h4.9v44.83h-4.9zM402.89 1168.67h4.9v44.83h-4.9zM409.04 1168.67h4.9v44.83h-4.9zM415.18 1168.67h4.9v44.83h-4.9zM421.32 1168.67h4.9v44.83h-4.9zM427.47 1168.67h4.9v44.83h-4.9zM433.61 1168.67h4.9v44.83h-4.9zM439.76 1168.67h4.9v44.83h-4.9zM445.9 1168.67h4.9v44.83h-4.9zM452.04 1168.67h4.9v44.83h-4.9zM458.19 1168.67h4.9v44.83h-4.9zM464.33 1168.67h4.9v44.83h-4.9zM470.48 1168.67h4.9v44.83h-4.9zM476.62 1168.67h4.9v44.83h-4.9zM482.76 1168.67h4.9v44.83h-4.9zM488.91 1168.67h4.9v44.83h-4.9zM495.05 1168.67h4.9v44.83h-4.9zM501.2 1168.67h4.9v44.83h-4.9zM507.34 1168.67h4.9v44.83h-4.9zM513.48 1168.67h4.9v44.83h-4.9zM519.63 1168.67h4.9v44.83h-4.9zM525.77 1123.83h4.9v89.67h-4.9zM531.92 1123.83h4.9v89.67h-4.9zM538.06 1123.83h4.9v89.67h-4.9zM544.2 1123.83h4.9v89.67h-4.9zM550.35 1079h4.9v134.5h-4.9zM556.49 1079h4.9v134.5h-4.9zM562.64 1079h4.9v134.5h-4.9zM568.78 1168.67h4.9v44.83h-4.9zM574.92 1168.67h4.9v44.83h-4.9zM581.07 1168.67h4.9v44.83h-4.9zM587.21 1168.67h4.9v44.83h-4.9zM593.36 1168.67h4.9v44.83h-4.9zM599.5 1168.67h4.9v44.83h-4.9zM605.64 1123.83h4.9v89.67h-4.9zM611.79 1123.83h4.9v89.67h-4.9zM617.93 1123.83h4.9v89.67h-4.9zM624.08 1123.83h4.9v89.67h-4.9zM630.22 1123.83h4.9v89.67h-4.9zM636.36 1123.83h4.9v89.67h-4.9zM642.51 1123.83h4.9v89.67h-4.9zM648.65 1079h4.9v134.5h-4.9zM654.8 1079h4.9v134.5h-4.9zM660.94 1079h4.9v134.5h-4.9zM667.08 1079h4.9v134.5h-4.9zM673.23 1079h4.9v134.5h-4.9zM679.37 1123.83h4.9v89.67h-4.9zM685.52 1123.83h4.9v89.67h-4.9zM691.66 1123.83h4.9v89.67h-4.9zM697.8 1168.67h4.9v44.83h-4.9z" fill="#e31a1c"/>
<path d="M525.77 1213.5h4.9v44.83h-4.9zM531.92 1213.5h4.9v44.83h-4.9zM538.06 1213.5h4.9v44.83h-4.9zM544.2 1213.5h4.9v44.83h-4.9zM550.35 1213.5h4.9v44.83h-4.9zM556.49 1213.5h4.9v89.67h-4.9zM562.64 1213.5h4.9v89.67h-4.9zM568.78 1213.5h4.9v44.83h-4.9zM574.92 1213.5h4.9v44.83h-4.9zM581.07 1213.5h4.9v44.83h-4.9zM587.21 1213.5h4.9v44.83h-4.9zM593.36 1213.5h4.9v44.83h-4.9zM599.5 1213.5h4.9v44.83h-4.9zM605.64 1213.5h4.9v89.67h-4.9zM611.79 1213.5h4.9v89.67h-4.9zM617.93 1213.5h4.9v89.67h-4.9zM624.08 1213.5h4.9v89.67h-4.9zM630.22 1213.5h4.9v89.67h-4.9zM636.36 1213.5h4.9v89.67h-4.9zM642.51 1213.5h4.9v89.67h-4.9zM648.65 1213.5h4.9v134.5h-4.9zM654.8 1213.5h4.9v134.5h-4.9zM660.94 1213.5h4.9v134.5h-4.9zM667.08 1213.5h4.9v134.5h-4.9zM673.23 1213.5h4.9v134.5h-4.9zM679.37 1213.5h4.9v134.5h-4.9zM685.52 1213.5h4.9v134.5h-4.9zM691.66 1213.5h4.9v134.5h-4.9zM697.8 1213.5h4.9v89.67h-4.9zM703.95 1213.5h4.9v44.83h-4.9zM710.09 1213.5h4.9v44.83h-4.9zM716.24 1213.5h4.9v44.83h-4.9zM722.38 1213.5h4.9v44.83h-4.9zM728.52 1213.5h4.9v44.83h-4.9zM734.67 1213.5h4.9v44.83h-4.9zM740.81 1213.5h4.9v44.83h-4.9zM746.96 1213.5h4.9v44.83h-4.9zM753.1 1213.5h4.9v44.83h-4.9zM759.24 1213.5h4.9v44.83h-4.9zM765.39 1213.5h4.9v44.83h-4.9zM771.53 1213.5h4.9v44.83h-4.9zM777.68 1213.5h4.9v44.83h-4.9zM783.82 1213.5h4.9v44.83h-4.9zM789.96 1213.5h4.9v44.83h-4.9zM796.11 1213.5h4.9v89.67h-4.9zM802.25 1213.5h4.9v89.67h-4.9zM808.4 1213.5h4.9v134.5h-4.9zM814.54 1213.5h4.9v134.5h-4.9zM820.68 1213.5h4.9v134.5h-4.9z" fill="#33a02c"/>
<line x1="132.3" y1="1213.5" x2="832.6" y2="1213.5" stroke="#000" stroke-width="1.4"/>
<line x1="133" y1="1382.4" x2="133" y2="1518.5" stroke="#000" stroke-width="1.4"/>
<line x1="129.5" y1="1517.8" x2="133" y2="1517.8" stroke="#000" stroke-width="1.4"/>
<line x1="129.5" y1="1500.88" x2="133" y2="1500.88" stroke="#000" stroke-width="1.4"/>
<line x1="129.5" y1="1483.95" x2="133" y2="1483.95" stroke="#000" stroke-width="1.4"/>
<line x1="129.5" y1="1467.03" x2="133" y2="1467.03" stroke="#000" stroke-width="1.4"/>
<line x1="129.5" y1="1450.1" x2="133" y2="1450.1" stroke="#000" stroke-width="1.4"/>
<line x1="129.5" y1="1433.17" x2="133" y2="1433.17" stroke="#000" stroke-width="1.4"/>
<line x1="129.5" y1="1416.25" x2="133" y2="1416.25" stroke="#000" stroke-width="1.4"/>
<line x1="129.5" y1="1399.33" x2="133" y2="1399.33" stroke="#000" stroke-width="1.4"/>
<line x1="129.5" y1="1382.4" x2="133" y2="1382.4" stroke="#000" stroke-width="1.4"/>
<text transform="translate(120.4 1525.6)" text-anchor="end" font-size="20.6">0</text>
<text transform="translate(120.4 1491.75)" text-anchor="end" font-size="20.6">0.25</text>
<text transform="translate(120.4 1457.9)" text-anchor="end" font-size="20.6">0.50</text>
<text transform="translate(120.4 1424.05)" text-anchor="end" font-size="20.6">0.75</text>
<text transform="translate(120.4 1390.2)" text-anchor="end" font-size="20.6">1.00</text>
<path d="M139.7 1385.67h4.9V1517.8h-4.9zM145.83 1387.06h4.9V1517.8h-4.9zM151.97 1418.89h4.9V1517.8h-4.9zM158.1 1381.21h4.9V1517.8h-4.9zM164.23 1382.89h4.9V1517.8h-4.9zM170.36 1381.9h4.9V1517.8h-4.9zM176.5 1386.56h4.9V1517.8h-4.9zM182.63 1381.9h4.9V1517.8h-4.9zM188.76 1385.07h4.9V1517.8h-4.9zM194.9 1382.1h4.9V1517.8h-4.9zM201.03 1406h4.9V1517.8h-4.9zM207.16 1388.05h4.9V1517.8h-4.9zM213.3 1381.21h4.9V1517.8h-4.9zM219.43 1383.39h4.9V1517.8h-4.9zM225.56 1387.06h4.9V1517.8h-4.9zM231.69 1382.69h4.9V1517.8h-4.9zM237.83 1397.07h4.9V1517.8h-4.9zM243.96 1381.21h4.9V1517.8h-4.9zM250.09 1390.53h4.9V1517.8h-4.9zM256.23 1385.07h4.9V1517.8h-4.9zM262.36 1381.21h4.9V1517.8h-4.9zM268.49 1381.21h4.9V1517.8h-4.9zM274.63 1382.59h4.9V1517.8h-4.9zM280.76 1477.1h4.9V1517.8h-4.9zM286.89 1453.3h4.9V1517.8h-4.9zM293.02 1501.2h4.9V1517.8h-4.9zM299.16 1390.53h4.9V1517.8h-4.9zM305.29 1381.21h4.9V1517.8h-4.9zM311.42 1381.21h4.9V1517.8h-4.9zM317.56 1381.21h4.9V1517.8h-4.9zM323.69 1381.21h4.9V1517.8h-4.9zM329.82 1383.88h4.9V1517.8h-4.9zM335.96 1513.3h4.9V1517.8h-4.9zM342.09 1381.21h4.9V1517.8h-4.9zM348.22 1500.11h4.9V1517.8h-4.9zM354.36 1381.21h4.9V1517.8h-4.9zM360.49 1382.69h4.9V1517.8h-4.9zM372.75 1381.21h4.9V1517.8h-4.9zM385.02 1386.36h4.9V1517.8h-4.9zM391.15 1393.11h4.9V1517.8h-4.9zM409.55 1461.23h4.9V1517.8h-4.9zM415.69 1382.69h4.9V1517.8h-4.9zM421.82 1381.21h4.9V1517.8h-4.9zM427.95 1513.3h4.9V1517.8h-4.9zM434.08 1381.21h4.9V1517.8h-4.9zM440.22 1381.21h4.9V1517.8h-4.9zM446.35 1389.14h4.9V1517.8h-4.9zM452.48 1397.07h4.9V1517.8h-4.9zM458.62 1381.21h4.9V1517.8h-4.9zM470.88 1439.91h4.9V1517.8h-4.9zM477.01 1382.69h4.9V1517.8h-4.9zM483.15 1501.1h4.9V1517.8h-4.9zM489.28 1389.14h4.9V1517.8h-4.9zM507.68 1411.95h4.9V1517.8h-4.9zM513.81 1490.49h4.9V1517.8h-4.9zM519.95 1513.1h4.9V1517.8h-4.9zM526.08 1472.14h4.9V1517.8h-4.9zM544.48 1469.17h4.9V1517.8h-4.9zM550.61 1488.21h4.9V1517.8h-4.9zM556.74 1385.37h4.9V1517.8h-4.9zM562.88 1396.08h4.9V1517.8h-4.9zM569.01 1388.05h4.9V1517.8h-4.9zM575.14 1389.14h4.9V1517.8h-4.9zM581.28 1485.23h4.9V1517.8h-4.9zM587.41 1402.73h4.9V1517.8h-4.9zM593.54 1381.21h4.9V1517.8h-4.9zM599.67 1381.21h4.9V1517.8h-4.9zM605.81 1386.56h4.9V1517.8h-4.9zM618.07 1381.21h4.9V1517.8h-4.9zM624.21 1510.82h4.9V1517.8h-4.9zM630.34 1382.69h4.9V1517.8h-4.9zM636.47 1508.04h4.9V1517.8h-4.9zM648.74 1386.56h4.9V1517.8h-4.9zM654.87 1381.21h4.9V1517.8h-4.9zM661 1381.21h4.9V1517.8h-4.9zM667.14 1454.49h4.9V1517.8h-4.9zM673.27 1381.21h4.9V1517.8h-4.9zM679.4 1381.21h4.9V1517.8h-4.9zM685.54 1498.62h4.9V1517.8h-4.9zM691.67 1472.14h4.9V1517.8h-4.9zM697.8 1421.37h4.9V1517.8h-4.9zM716.2 1450.52h4.9V1517.8h-4.9zM722.34 1382.69h4.9V1517.8h-4.9zM728.47 1509.33h4.9V1517.8h-4.9zM734.6 1382.69h4.9V1517.8h-4.9zM746.87 1381.21h4.9V1517.8h-4.9zM759.13 1498.62h4.9V1517.8h-4.9zM771.4 1456.28h4.9V1517.8h-4.9zM777.53 1386.56h4.9V1517.8h-4.9zM789.8 1384.08h4.9V1517.8h-4.9zM795.93 1394.59h4.9V1517.8h-4.9zM802.06 1386.56h4.9V1517.8h-4.9zM808.2 1381.21h4.9V1517.8h-4.9zM814.33 1382.69h4.9V1517.8h-4.9zM820.46 1441.2h4.9V1517.8h-4.9z" fill="#a9a9a9"/>
<line x1="132.3" y1="1517.8" x2="833.1" y2="1517.8" stroke="#000" stroke-width="1.4"/>
<rect x="137.4" y="1070" width="94" height="450.9" fill="none" stroke="#000" stroke-width="1.3" stroke-dasharray="3 2.2"/>
<rect x="247" y="1260.2" width="18.8" height="18.6" fill="#e31a1c"/>
<rect x="247" y="1285.2" width="18.8" height="18.8" fill="#33a02c"/>
<text transform="translate(277.9 1277.8)" font-size="21.1">DAC+SB939 (n = 3)</text>
<text transform="translate(277.9 1302.8)" font-size="21.1">DMSO (n = 3)</text>
<text transform="translate(43.8 1336) rotate(-90)" font-size="25.2">Frequency of positive</text>
<text transform="translate(66.1 1347.7) rotate(-90)" font-size="25.5">immunopeptidomes [%]</text>
<text transform="translate(43.8 1526.4) rotate(-90)" font-size="24.9">R² of validation</text>
<text transform="translate(66.1 1488.3) rotate(-90)" font-size="25.3">spectra</text>
<text transform="translate(336.7 1548.8)" font-size="25.3">Novel ORF ligands (n = 112)</text>
<text transform="translate(873.2 1081.5)" font-weight="bold" font-size="31">j</text>
<line x1="913.5" y1="1110" x2="913.5" y2="1512.6" stroke="#000" stroke-width="1.4"/>
<path d="M946.1 1288.6V1341.1M961.7 1309V1312M985 1307.5V1316.5M995.3 1309V1312M1006.4 1307.5V1316.5M1099.9 1308.5V1311.5M1106 1308V1312M1132.7 1304.2V1319.8M1176.1 1220.2V1417M1194.2 1306.5V1311M1196.5 1306.5V1311M1222.9 1305.5V1311M1228 1306.5V1312.5M1231 1305V1313M1236 1304.2V1312.5M1240 1306.5V1311.5M1298.7 1308.5V1313M1319.2 1306.5V1315M1331.5 1308.5V1311.5M1344 1308.5V1311.5M1384.7 1307.2V1316.5M1401.3 1306V1312M1406.5 1299.5V1328M1440.2 1308.5V1311.5M1484 1308.5V1311.5M1500 1308V1311M1516 1308.5V1311.5M1525 1308.5V1311M1551 1308V1312M1573.5 1308V1311M1595 1308V1311M1598 1308V1311" stroke="#b4b4b4" stroke-width="1.3" fill="none"/>
<path d="M1250.3 1311.5V1317.7" stroke="#33a02c" stroke-width="1.6" fill="none"/>
<path d="M967.6 1285.1V1338.2M1054.8 1296V1327.2M1108 1307.1V1316.5M1121.6 1300.1V1323.5M1136.8 1310.8V1315.8M1143.3 1289V1335.8M1179.8 1289.4V1330.9M1187 1200.5V1410M1233.9 1304.2V1317.3M1368 1296.4V1328M1479.8 1310.8V1314.5M1493.5 1255.4V1380M1567 1310.8V1314.5M1580.7 1131.5V1489.9" stroke="#cc0000" stroke-width="1.6" fill="none"/>
<path d="M933 1291.9V1330.9M1020 1303.6V1322.7M1146.2 1304.2V1316.5M1162.6 1304.2V1319.4M1169.6 1289.9V1344M1206.5 1305V1316.5M1213 1310.8V1314.5M1265.9 1294.8V1332.1M1391.9 1282.1V1354.2M1458.9 1237.3V1412.9M1532.2 1303.8V1319.5M1546.1 1194.7V1461.6M1619.4 1308.7V1314.5M1633.1 1307.2V1315.8" stroke="#0000ff" stroke-width="1.6" fill="none"/>
<line x1="912.8" y1="1310.9" x2="1656.2" y2="1310.9" stroke="#000" stroke-width="1.4"/>
<text transform="translate(967.3 1277.3)" text-anchor="middle" font-weight="bold" fill="#cc0000" font-size="20.2">227.175</text>
<text transform="translate(954.76 1251.3)" font-weight="bold" fill="#cc0000" font-size="20.5">b<tspan font-size="10.5" dy="6.5">2</tspan><tspan font-size="11.5" dy="-12.7">+</tspan></text>
<text transform="translate(1055 1287.6)" text-anchor="middle" font-weight="bold" fill="#cc0000" font-size="20.2">340.259</text>
<text transform="translate(1042.46 1261.6)" font-weight="bold" fill="#cc0000" font-size="20.5">b<tspan font-size="10.5" dy="6.5">3</tspan><tspan font-size="11.5" dy="-12.7">+</tspan></text>
<text transform="translate(1187.1 1192.75)" text-anchor="middle" font-weight="bold" fill="#cc0000" font-size="20.2">511.805</text>
<text transform="translate(1171.36 1166.75)" font-weight="bold" fill="#cc0000" font-size="20.5">b<tspan font-size="10.5" dy="6.5">8</tspan><tspan font-size="12" dy="-12.7">2+</tspan></text>
<text transform="translate(1265.9 1287)" text-anchor="middle" font-weight="bold" fill="#0000ff" font-size="20.2">614.330</text>
<text transform="translate(1253.92 1261)" font-weight="bold" fill="#0000ff" font-size="20.5">y<tspan font-size="10.5" dy="6.5">4</tspan><tspan font-size="11.5" dy="-12.7">+</tspan></text>
<text transform="translate(1391.2 1273.7)" text-anchor="middle" font-weight="bold" fill="#0000ff" font-size="20.2">777.393</text>
<text transform="translate(1379.22 1247.7)" font-weight="bold" fill="#0000ff" font-size="20.5">y<tspan font-size="10.5" dy="6.5">5</tspan><tspan font-size="11.5" dy="-12.7">+</tspan></text>
<text transform="translate(1457.9 1229.7)" text-anchor="middle" font-weight="bold" fill="#0000ff" font-size="20.2">864.425</text>
<text transform="translate(1445.92 1203.7)" font-weight="bold" fill="#0000ff" font-size="20.5">y<tspan font-size="10.5" dy="6.5">6</tspan><tspan font-size="11.5" dy="-12.7">+</tspan></text>
<text transform="translate(1545.8 1186.4)" text-anchor="middle" font-weight="bold" fill="#0000ff" font-size="20.2">977.510</text>
<text transform="translate(1533.82 1160.4)" font-weight="bold" fill="#0000ff" font-size="20.5">y<tspan font-size="10.5" dy="6.5">7</tspan><tspan font-size="11.5" dy="-12.7">+</tspan></text>
<text transform="translate(1580.8 1122.9)" text-anchor="middle" font-weight="bold" fill="#cc0000" font-size="20.2">1022.604</text>
<text transform="translate(1568.26 1096.9)" font-weight="bold" fill="#cc0000" font-size="20.5">b<tspan font-size="10.5" dy="6.5">8</tspan><tspan font-size="11.5" dy="-12.7">+</tspan></text>
<text transform="translate(925.9 1135.6)" font-size="22.1">Identification</text>
<text transform="translate(928.9 1162.2)" font-size="22">LLLSYRYIY</text>
<text transform="translate(941.6 1478.9)" font-size="21.6">Validation</text>
<text transform="translate(936.1 1505.3)" font-size="21.9">R² = 0.956</text>
<text transform="translate(895 1363.8) rotate(-90)" font-size="26.2">Intensity</text>
<text transform="translate(1683.5 1081.5)" font-weight="bold" font-size="31">k</text>
<line x1="1784.7" y1="1110.8" x2="1784.7" y2="1461.3" stroke="#000" stroke-width="1.4"/>
<line x1="1784" y1="1460.6" x2="1972.1" y2="1460.6" stroke="#000" stroke-width="1.4"/>
<line x1="1781.1" y1="1442.8" x2="1784.7" y2="1442.8" stroke="#000" stroke-width="1.4"/>
<text transform="translate(1769.8 1451.8)" text-anchor="end" font-size="21">0</text>
<line x1="1781.1" y1="1360.02" x2="1784.7" y2="1360.02" stroke="#000" stroke-width="1.4"/>
<text transform="translate(1769.8 1369.02)" text-anchor="end" font-size="21">0.25</text>
<line x1="1781.1" y1="1277.25" x2="1784.7" y2="1277.25" stroke="#000" stroke-width="1.4"/>
<text transform="translate(1769.8 1286.25)" text-anchor="end" font-size="21">0.50</text>
<line x1="1781.1" y1="1194.47" x2="1784.7" y2="1194.47" stroke="#000" stroke-width="1.4"/>
<text transform="translate(1769.8 1203.47)" text-anchor="end" font-size="21">0.75</text>
<line x1="1781.1" y1="1111.7" x2="1784.7" y2="1111.7" stroke="#000" stroke-width="1.4"/>
<text transform="translate(1769.8 1120.7)" text-anchor="end" font-size="21">1.00</text>
<line x1="1813.5" y1="1460.6" x2="1813.5" y2="1464.6" stroke="#000" stroke-width="1.4"/>
<line x1="1873.4" y1="1460.6" x2="1873.4" y2="1464.6" stroke="#000" stroke-width="1.4"/>
<line x1="1933.4" y1="1460.6" x2="1933.4" y2="1464.6" stroke="#000" stroke-width="1.4"/>
<text transform="translate(1813.5 1486.8)" text-anchor="middle" font-size="21.5">1</text>
<text transform="translate(1873.4 1486.8)" text-anchor="middle" font-size="21.5">2</text>
<text transform="translate(1933.4 1486.8)" text-anchor="middle" font-size="21.5">≥ 3</text>
<text transform="translate(1873.6 1518)" text-anchor="middle" font-size="25.7">Found on</text>
<text transform="translate(1873.6 1549.2)" text-anchor="middle" font-size="25.3">x samples</text>
<text transform="translate(1717.3 1414.6) rotate(-90)" font-size="25.1">R² of validation spectra</text>
<rect x="1792.2" y="1118" width="42.8" height="322.6" fill="none" stroke="#000" stroke-width="1.4"/>
<line x1="1791.2" y1="1290.8" x2="1836.6" y2="1290.8" stroke="#000" stroke-width="1.6"/>
<rect x="1851.9" y="1114.5" width="42.8" height="233.8" fill="none" stroke="#000" stroke-width="1.4"/>
<line x1="1850.2" y1="1125.5" x2="1896.5" y2="1125.5" stroke="#000" stroke-width="1.6"/>
<line x1="1873.3" y1="1348.3" x2="1873.3" y2="1442.8" stroke="#000" stroke-width="1.3"/>
<line x1="1862.3" y1="1442.8" x2="1884.9" y2="1442.8" stroke="#000" stroke-width="1.6"/>
<rect x="1912" y="1114.5" width="42.6" height="91.5" fill="none" stroke="#000" stroke-width="1.4"/>
<line x1="1910.2" y1="1125.5" x2="1956.5" y2="1125.5" stroke="#000" stroke-width="1.6"/>
<line x1="1933.4" y1="1206" x2="1933.4" y2="1442.8" stroke="#000" stroke-width="1.3"/>
<line x1="1921.4" y1="1442.8" x2="1944.7" y2="1442.8" stroke="#000" stroke-width="1.6"/>
<path d="M1808.5 1125.61a5 5 0 1 0 10 0a5 5 0 1 0 -10 0M1808.5 1132.23a5 5 0 1 0 10 0a5 5 0 1 0 -10 0M1808.5 1142.16a5 5 0 1 0 10 0a5 5 0 1 0 -10 0M1808.5 1152.09a5 5 0 1 0 10 0a5 5 0 1 0 -10 0M1808.5 1188.18a5 5 0 1 0 10 0a5 5 0 1 0 -10 0M1808.5 1257.38a5 5 0 1 0 10 0a5 5 0 1 0 -10 0M1808.5 1284.2a5 5 0 1 0 10 0a5 5 0 1 0 -10 0M1808.5 1297.12a5 5 0 1 0 10 0a5 5 0 1 0 -10 0M1808.5 1310.36a5 5 0 1 0 10 0a5 5 0 1 0 -10 0M1808.5 1383.53a5 5 0 1 0 10 0a5 5 0 1 0 -10 0M1808.5 1429.56a5 5 0 1 0 10 0a5 5 0 1 0 -10 0M1809.7 1403.07a5 5 0 1 0 10 0a5 5 0 1 0 -10 0M1807.7 1409.69a5 5 0 1 0 10 0a5 5 0 1 0 -10 0M1790.5 1442.8a5 5 0 1 0 10 0a5 5 0 1 0 -10 0M1795 1442.8a5 5 0 1 0 10 0a5 5 0 1 0 -10 0M1800 1442.8a5 5 0 1 0 10 0a5 5 0 1 0 -10 0M1803.5 1442.8a5 5 0 1 0 10 0a5 5 0 1 0 -10 0M1806.5 1442.8a5 5 0 1 0 10 0a5 5 0 1 0 -10 0M1809.5 1442.8a5 5 0 1 0 10 0a5 5 0 1 0 -10 0M1812.5 1442.8a5 5 0 1 0 10 0a5 5 0 1 0 -10 0M1815.5 1442.8a5 5 0 1 0 10 0a5 5 0 1 0 -10 0M1818.5 1442.8a5 5 0 1 0 10 0a5 5 0 1 0 -10 0M1821.5 1442.8a5 5 0 1 0 10 0a5 5 0 1 0 -10 0M1824.5 1442.8a5 5 0 1 0 10 0a5 5 0 1 0 -10 0M1827.5 1442.8a5 5 0 1 0 10 0a5 5 0 1 0 -10 0M1796.5 1440.2a5 5 0 1 0 10 0a5 5 0 1 0 -10 0M1791.5 1440.5a5 5 0 1 0 10 0a5 5 0 1 0 -10 0M1793.5 1112a5 5 0 1 0 10 0a5 5 0 1 0 -10 0M1797.5 1112.5a5 5 0 1 0 10 0a5 5 0 1 0 -10 0M1801 1112a5 5 0 1 0 10 0a5 5 0 1 0 -10 0M1804 1112a5 5 0 1 0 10 0a5 5 0 1 0 -10 0M1807 1112a5 5 0 1 0 10 0a5 5 0 1 0 -10 0M1809.5 1113a5 5 0 1 0 10 0a5 5 0 1 0 -10 0M1813 1113a5 5 0 1 0 10 0a5 5 0 1 0 -10 0M1817 1111a5 5 0 1 0 10 0a5 5 0 1 0 -10 0M1820 1114a5 5 0 1 0 10 0a5 5 0 1 0 -10 0M1824 1115a5 5 0 1 0 10 0a5 5 0 1 0 -10 0M1797.5 1116a5 5 0 1 0 10 0a5 5 0 1 0 -10 0M1808 1117a5 5 0 1 0 10 0a5 5 0 1 0 -10 0M1816.5 1116a5 5 0 1 0 10 0a5 5 0 1 0 -10 0M1821 1117.5a5 5 0 1 0 10 0a5 5 0 1 0 -10 0M1808.5 1125.5a5 5 0 1 0 10 0a5 5 0 1 0 -10 0M1868.3 1290.83a5 5 0 1 0 10 0a5 5 0 1 0 -10 0M1868.3 1350.42a5 5 0 1 0 10 0a5 5 0 1 0 -10 0M1868.3 1376.58a5 5 0 1 0 10 0a5 5 0 1 0 -10 0M1868.3 1152.09a5 5 0 1 0 10 0a5 5 0 1 0 -10 0M1868.3 1145.47a5 5 0 1 0 10 0a5 5 0 1 0 -10 0M1868.3 1135.54a5 5 0 1 0 10 0a5 5 0 1 0 -10 0M1868.3 1124.94a5 5 0 1 0 10 0a5 5 0 1 0 -10 0M1870 1330.23a5 5 0 1 0 10 0a5 5 0 1 0 -10 0M1867.2 1337.51a5 5 0 1 0 10 0a5 5 0 1 0 -10 0M1869.5 1406.38a5 5 0 1 0 10 0a5 5 0 1 0 -10 0M1867.5 1409.69a5 5 0 1 0 10 0a5 5 0 1 0 -10 0M1865 1135.54a5 5 0 1 0 10 0a5 5 0 1 0 -10 0M1871.5 1135.54a5 5 0 1 0 10 0a5 5 0 1 0 -10 0M1863.7 1442.8a5 5 0 1 0 10 0a5 5 0 1 0 -10 0M1867.2 1442.8a5 5 0 1 0 10 0a5 5 0 1 0 -10 0M1871.4 1442.8a5 5 0 1 0 10 0a5 5 0 1 0 -10 0M1874.2 1442.8a5 5 0 1 0 10 0a5 5 0 1 0 -10 0M1867.2 1439.5a5 5 0 1 0 10 0a5 5 0 1 0 -10 0M1849.5 1112a5 5 0 1 0 10 0a5 5 0 1 0 -10 0M1853.5 1112a5 5 0 1 0 10 0a5 5 0 1 0 -10 0M1857 1112a5 5 0 1 0 10 0a5 5 0 1 0 -10 0M1861 1111a5 5 0 1 0 10 0a5 5 0 1 0 -10 0M1865 1112a5 5 0 1 0 10 0a5 5 0 1 0 -10 0M1868.5 1112.5a5 5 0 1 0 10 0a5 5 0 1 0 -10 0M1872 1111a5 5 0 1 0 10 0a5 5 0 1 0 -10 0M1875.5 1112a5 5 0 1 0 10 0a5 5 0 1 0 -10 0M1880 1111.5a5 5 0 1 0 10 0a5 5 0 1 0 -10 0M1884 1112a5 5 0 1 0 10 0a5 5 0 1 0 -10 0M1887 1112a5 5 0 1 0 10 0a5 5 0 1 0 -10 0M1850 1115a5 5 0 1 0 10 0a5 5 0 1 0 -10 0M1858.5 1119a5 5 0 1 0 10 0a5 5 0 1 0 -10 0M1863 1120.5a5 5 0 1 0 10 0a5 5 0 1 0 -10 0M1870 1120a5 5 0 1 0 10 0a5 5 0 1 0 -10 0M1873.5 1116.5a5 5 0 1 0 10 0a5 5 0 1 0 -10 0M1880 1117a5 5 0 1 0 10 0a5 5 0 1 0 -10 0M1868.5 1124a5 5 0 1 0 10 0a5 5 0 1 0 -10 0M1865.5 1122a5 5 0 1 0 10 0a5 5 0 1 0 -10 0M1872 1122.5a5 5 0 1 0 10 0a5 5 0 1 0 -10 0M1928.4 1261.03a5 5 0 1 0 10 0a5 5 0 1 0 -10 0M1928.4 1294.14a5 5 0 1 0 10 0a5 5 0 1 0 -10 0M1928.4 1337.18a5 5 0 1 0 10 0a5 5 0 1 0 -10 0M1928.4 1370.29a5 5 0 1 0 10 0a5 5 0 1 0 -10 0M1928.4 1403.07a5 5 0 1 0 10 0a5 5 0 1 0 -10 0M1928.4 1425.91a5 5 0 1 0 10 0a5 5 0 1 0 -10 0M1928.4 1432.87a5 5 0 1 0 10 0a5 5 0 1 0 -10 0M1928.4 1148.45a5 5 0 1 0 10 0a5 5 0 1 0 -10 0M1928.4 1165.01a5 5 0 1 0 10 0a5 5 0 1 0 -10 0M1928.4 1173.95a5 5 0 1 0 10 0a5 5 0 1 0 -10 0M1928.4 1205.07a5 5 0 1 0 10 0a5 5 0 1 0 -10 0M1929.5 1211.36a5 5 0 1 0 10 0a5 5 0 1 0 -10 0M1926.5 1442.8a5 5 0 1 0 10 0a5 5 0 1 0 -10 0M1931.5 1442.8a5 5 0 1 0 10 0a5 5 0 1 0 -10 0M1908.7 1112.76a5 5 0 1 0 10 0a5 5 0 1 0 -10 0M1911.72 1113.1a5 5 0 1 0 10 0a5 5 0 1 0 -10 0M1914.38 1113.07a5 5 0 1 0 10 0a5 5 0 1 0 -10 0M1916 1112.29a5 5 0 1 0 10 0a5 5 0 1 0 -10 0M1920.21 1112.6a5 5 0 1 0 10 0a5 5 0 1 0 -10 0M1922.89 1111.69a5 5 0 1 0 10 0a5 5 0 1 0 -10 0M1924.95 1111.92a5 5 0 1 0 10 0a5 5 0 1 0 -10 0M1927.82 1112.48a5 5 0 1 0 10 0a5 5 0 1 0 -10 0M1929.72 1111.87a5 5 0 1 0 10 0a5 5 0 1 0 -10 0M1932.9 1113.06a5 5 0 1 0 10 0a5 5 0 1 0 -10 0M1936.43 1111.77a5 5 0 1 0 10 0a5 5 0 1 0 -10 0M1939.23 1111.74a5 5 0 1 0 10 0a5 5 0 1 0 -10 0M1941.69 1111.72a5 5 0 1 0 10 0a5 5 0 1 0 -10 0M1943.45 1112.98a5 5 0 1 0 10 0a5 5 0 1 0 -10 0M1946.54 1111.87a5 5 0 1 0 10 0a5 5 0 1 0 -10 0M1950.52 1112.98a5 5 0 1 0 10 0a5 5 0 1 0 -10 0M1909.58 1117.9a5 5 0 1 0 10 0a5 5 0 1 0 -10 0M1915.28 1117.19a5 5 0 1 0 10 0a5 5 0 1 0 -10 0M1919.81 1117.85a5 5 0 1 0 10 0a5 5 0 1 0 -10 0M1925.98 1117.92a5 5 0 1 0 10 0a5 5 0 1 0 -10 0M1931.59 1116.25a5 5 0 1 0 10 0a5 5 0 1 0 -10 0M1935.72 1115.91a5 5 0 1 0 10 0a5 5 0 1 0 -10 0M1940.49 1115.66a5 5 0 1 0 10 0a5 5 0 1 0 -10 0M1946 1117.01a5 5 0 1 0 10 0a5 5 0 1 0 -10 0M1916 1121a5 5 0 1 0 10 0a5 5 0 1 0 -10 0M1921 1124.5a5 5 0 1 0 10 0a5 5 0 1 0 -10 0M1925.5 1122a5 5 0 1 0 10 0a5 5 0 1 0 -10 0M1929 1127a5 5 0 1 0 10 0a5 5 0 1 0 -10 0M1933 1123a5 5 0 1 0 10 0a5 5 0 1 0 -10 0M1937.5 1126a5 5 0 1 0 10 0a5 5 0 1 0 -10 0M1941 1121a5 5 0 1 0 10 0a5 5 0 1 0 -10 0M1924 1131a5 5 0 1 0 10 0a5 5 0 1 0 -10 0M1928.5 1133.5a5 5 0 1 0 10 0a5 5 0 1 0 -10 0M1932.5 1130.5a5 5 0 1 0 10 0a5 5 0 1 0 -10 0M1919.5 1129.5a5 5 0 1 0 10 0a5 5 0 1 0 -10 0M1939 1130a5 5 0 1 0 10 0a5 5 0 1 0 -10 0" fill="none" stroke="#000" stroke-width="1.0"/>
</svg></body></html>
